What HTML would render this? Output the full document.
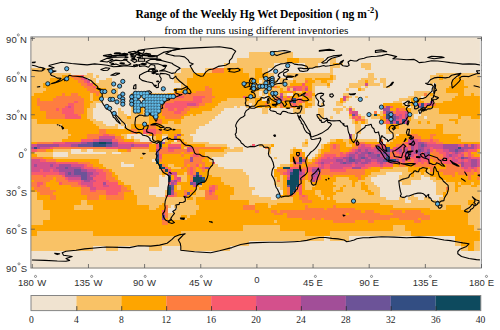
<!DOCTYPE html><html><head><meta charset="utf-8"><style>html,body{margin:0;padding:0;background:#fff}svg{display:block}</style></head><body>
<svg width="500" height="330" viewBox="0 0 500 330">
<rect width="500" height="330" fill="#fff"/>
<rect x="30.74" y="37.18" width="449.21" height="231.45" fill="#F0E3D0"/>
<path fill="#F9C266" shape-rendering="crispEdges" d="M249.1 52.4H292.8V57.5H249.1zM236.6 57.5H286.5V62.6H236.6zM299.0 57.5H324.0V62.6H299.0zM330.2 57.5H336.4V62.6H330.2zM330.2 62.6H333.3V65.2H330.2zM339.6 62.6H342.7V65.2H339.6zM224.1 62.6H274.1V67.7H224.1zM305.3 62.6H317.7V67.7H305.3zM330.2 65.2H339.6V67.7H330.2zM361.4 62.6H370.8V67.7H361.4zM364.5 67.7H370.8V70.2H364.5zM30.7 67.7H49.5V72.8H30.7zM180.5 67.7H193.0V72.8H180.5zM205.4 67.7H211.7V72.8H205.4zM242.9 67.7H255.3V72.8H242.9zM261.6 67.7H267.8V72.8H261.6zM330.2 67.7H333.3V72.8H330.2zM30.7 72.8H71.3V75.3H30.7zM86.9 72.8H93.1V75.3H86.9zM286.5 72.8H333.3V75.3H286.5zM436.3 72.8H479.9V75.3H436.3zM30.7 75.3H61.9V77.9H30.7zM83.8 75.3H93.1V77.9H83.8zM96.2 75.3H99.4V77.9H96.2zM174.2 72.8H193.0V77.9H174.2zM249.1 72.8H255.3V77.9H249.1zM267.8 72.8H274.1V77.9H267.8zM286.5 75.3H330.2V77.9H286.5zM367.6 72.8H373.9V77.9H367.6zM442.5 75.3H458.1V77.9H442.5zM105.6 77.9H111.8V80.4H105.6zM258.5 77.9H274.1V80.4H258.5zM277.2 77.9H286.5V80.4H277.2zM292.8 77.9H305.3V80.4H292.8zM311.5 77.9H314.6V80.4H311.5zM333.3 75.3H336.4V80.4H333.3zM361.4 77.9H377.0V80.4H361.4zM430.0 75.3H439.4V80.4H430.0zM442.5 77.9H455.0V80.4H442.5zM461.2 75.3H479.9V80.4H461.2zM30.7 77.9H49.5V83.0H30.7zM90.0 77.9H96.2V83.0H90.0zM99.4 80.4H111.8V83.0H99.4zM174.2 77.9H186.7V83.0H174.2zM261.6 80.4H277.2V83.0H261.6zM280.3 80.4H292.8V83.0H280.3zM295.9 80.4H305.3V83.0H295.9zM314.6 80.4H320.8V83.0H314.6zM327.1 80.4H333.3V83.0H327.1zM358.3 80.4H364.5V83.0H358.3zM367.6 80.4H373.9V83.0H367.6zM380.1 77.9H386.4V83.0H380.1zM430.0 80.4H451.9V83.0H430.0zM96.2 83.0H111.8V85.5H96.2zM255.3 83.0H289.7V85.5H255.3zM311.5 83.0H327.1V85.5H311.5zM348.9 83.0H364.5V85.5H348.9zM367.6 83.0H380.1V85.5H367.6zM383.2 83.0H386.4V85.5H383.2zM430.0 83.0H433.2V85.5H430.0zM436.3 83.0H451.9V85.5H436.3zM464.3 80.4H479.9V85.5H464.3zM30.7 83.0H43.2V88.0H30.7zM99.4 85.5H111.8V88.0H99.4zM180.5 83.0H186.7V88.0H180.5zM255.3 85.5H270.9V88.0H255.3zM280.3 85.5H286.5V88.0H280.3zM327.1 85.5H330.2V88.0H327.1zM348.9 85.5H361.4V88.0H348.9zM364.5 85.5H367.6V88.0H364.5zM383.2 85.5H389.5V88.0H383.2zM436.3 85.5H448.7V88.0H436.3zM467.5 85.5H479.9V88.0H467.5zM30.7 88.0H46.3V90.6H30.7zM105.6 88.0H118.1V90.6H105.6zM177.4 88.0H180.5V90.6H177.4zM258.5 88.0H280.3V90.6H258.5zM283.4 88.0H286.5V90.6H283.4zM289.7 88.0H292.8V90.6H289.7zM345.8 88.0H348.9V90.6H345.8zM361.4 88.0H364.5V90.6H361.4zM30.7 90.6H43.2V93.1H30.7zM261.6 90.6H280.3V93.1H261.6zM295.9 90.6H302.1V93.1H295.9zM311.5 85.5H314.6V93.1H311.5zM414.4 90.6H430.0V93.1H414.4zM433.2 88.0H445.6V93.1H433.2zM464.3 88.0H479.9V93.1H464.3zM30.7 93.1H33.9V95.7H30.7zM255.3 90.6H258.5V95.7H255.3zM261.6 93.1H264.7V95.7H261.6zM270.9 93.1H280.3V95.7H270.9zM283.4 93.1H286.5V95.7H283.4zM302.1 93.1H305.3V95.7H302.1zM342.7 93.1H348.9V95.7H342.7zM414.4 93.1H423.8V95.7H414.4zM426.9 93.1H430.0V95.7H426.9zM433.2 93.1H458.1V95.7H433.2zM464.3 93.1H470.6V95.7H464.3zM473.7 93.1H479.9V95.7H473.7zM102.5 90.6H118.1V98.2H102.5zM130.6 93.1H168.0V98.2H130.6zM255.3 95.7H261.6V98.2H255.3zM264.7 95.7H277.2V98.2H264.7zM299.0 95.7H302.1V98.2H299.0zM348.9 95.7H352.0V98.2H348.9zM355.2 95.7H358.3V98.2H355.2zM364.5 95.7H367.6V98.2H364.5zM408.2 95.7H420.7V98.2H408.2zM423.8 95.7H455.0V98.2H423.8zM90.0 93.1H93.1V100.8H90.0zM227.3 98.2H246.0V100.8H227.3zM249.1 98.2H255.3V100.8H249.1zM311.5 95.7H314.6V100.8H311.5zM345.8 98.2H348.9V100.8H345.8zM398.8 98.2H411.3V100.8H398.8zM414.4 98.2H417.6V100.8H414.4zM420.7 98.2H451.9V100.8H420.7zM93.1 100.8H102.5V103.3H93.1zM143.0 98.2H161.8V103.3H143.0zM221.0 100.8H255.3V103.3H221.0zM267.8 100.8H270.9V103.3H267.8zM308.4 100.8H314.6V103.3H308.4zM336.4 100.8H339.6V103.3H336.4zM342.7 100.8H345.8V103.3H342.7zM392.6 100.8H402.0V103.3H392.6zM423.8 100.8H430.0V103.3H423.8zM433.2 100.8H442.5V103.3H433.2zM217.9 103.3H249.1V105.8H217.9zM252.2 103.3H255.3V105.8H252.2zM302.1 103.3H305.3V105.8H302.1zM311.5 103.3H314.6V105.8H311.5zM320.8 103.3H324.0V105.8H320.8zM336.4 103.3H342.7V105.8H336.4zM402.0 103.3H405.1V105.8H402.0zM408.2 103.3H411.3V105.8H408.2zM90.0 103.3H96.2V108.4H90.0zM214.8 105.8H233.5V108.4H214.8zM236.6 105.8H239.7V108.4H236.6zM246.0 105.8H252.2V108.4H246.0zM261.6 105.8H264.7V108.4H261.6zM277.2 105.8H280.3V108.4H277.2zM295.9 105.8H305.3V108.4H295.9zM308.4 105.8H311.5V108.4H308.4zM342.7 105.8H345.8V108.4H342.7zM348.9 105.8H352.0V108.4H348.9zM405.1 105.8H408.2V108.4H405.1zM411.3 105.8H417.6V108.4H411.3zM118.1 108.4H121.2V110.9H118.1zM211.7 108.4H224.1V110.9H211.7zM333.3 108.4H342.7V110.9H333.3zM345.8 108.4H348.9V110.9H345.8zM352.0 108.4H355.2V110.9H352.0zM411.3 108.4H439.4V110.9H411.3zM118.1 110.9H124.3V113.5H118.1zM130.6 103.3H136.8V113.5H130.6zM143.0 103.3H155.5V113.5H143.0zM202.3 110.9H221.0V113.5H202.3zM261.6 108.4H267.8V113.5H261.6zM292.8 108.4H305.3V113.5H292.8zM336.4 110.9H339.6V113.5H336.4zM411.3 110.9H417.6V113.5H411.3zM420.7 110.9H439.4V113.5H420.7zM189.8 113.5H193.0V116.0H189.8zM196.1 113.5H217.9V116.0H196.1zM358.3 113.5H361.4V116.0H358.3zM367.6 113.5H373.9V116.0H367.6zM380.1 110.9H383.2V116.0H380.1zM420.7 113.5H458.1V116.0H420.7zM86.9 108.4H93.1V118.6H86.9zM118.1 113.5H127.4V118.6H118.1zM130.6 113.5H149.3V118.6H130.6zM183.6 116.0H214.8V118.6H183.6zM317.7 108.4H324.0V118.6H317.7zM330.2 116.0H333.3V118.6H330.2zM348.9 116.0H352.0V118.6H348.9zM361.4 116.0H364.5V118.6H361.4zM370.8 116.0H380.1V118.6H370.8zM411.3 113.5H414.4V118.6H411.3zM417.6 116.0H423.8V118.6H417.6zM426.9 116.0H458.1V118.6H426.9zM461.2 116.0H470.6V118.6H461.2zM90.0 118.6H96.2V121.1H90.0zM180.5 118.6H211.7V121.1H180.5zM411.3 118.6H448.7V121.1H411.3zM30.7 118.6H37.0V123.7H30.7zM93.1 121.1H102.5V123.7H93.1zM121.2 118.6H149.3V123.7H121.2zM168.0 121.1H174.2V123.7H168.0zM180.5 121.1H208.5V123.7H180.5zM352.0 118.6H355.2V123.7H352.0zM358.3 121.1H361.4V123.7H358.3zM364.5 118.6H367.6V123.7H364.5zM408.2 121.1H417.6V123.7H408.2zM420.7 121.1H426.9V123.7H420.7zM430.0 121.1H455.0V123.7H430.0zM458.1 118.6H479.9V123.7H458.1zM96.2 123.7H105.6V126.2H96.2zM115.0 123.7H118.1V126.2H115.0zM121.2 123.7H124.3V126.2H121.2zM127.4 123.7H130.6V126.2H127.4zM161.8 123.7H205.4V126.2H161.8zM30.7 123.7H61.9V128.7H30.7zM99.4 126.2H118.1V128.7H99.4zM124.3 126.2H130.6V128.7H124.3zM161.8 126.2H199.2V128.7H161.8zM398.8 123.7H436.3V128.7H398.8zM30.7 128.7H68.2V133.8H30.7zM180.5 128.7H196.1V133.8H180.5zM355.2 123.7H361.4V133.8H355.2zM386.4 128.7H411.3V133.8H386.4zM442.5 123.7H479.9V133.8H442.5zM30.7 133.8H71.3V136.4H30.7zM121.2 133.8H127.4V136.4H121.2zM146.2 133.8H149.3V136.4H146.2zM161.8 133.8H168.0V136.4H161.8zM183.6 133.8H189.8V136.4H183.6zM461.2 133.8H479.9V136.4H461.2zM30.7 136.4H68.2V138.9H30.7zM124.3 136.4H127.4V138.9H124.3zM130.6 136.4H133.7V138.9H130.6zM180.5 136.4H193.0V138.9H180.5zM352.0 133.8H355.2V138.9H352.0zM392.6 133.8H395.7V138.9H392.6zM458.1 136.4H479.9V138.9H458.1zM30.7 138.9H61.9V141.5H30.7zM133.7 138.9H139.9V141.5H133.7zM164.9 138.9H168.0V141.5H164.9zM183.6 138.9H193.0V141.5H183.6zM305.3 138.9H308.4V141.5H305.3zM330.2 138.9H336.4V141.5H330.2zM342.7 138.9H348.9V141.5H342.7zM355.2 138.9H377.0V141.5H355.2zM389.5 138.9H392.6V141.5H389.5zM461.2 138.9H479.9V141.5H461.2zM152.4 136.4H155.5V144.0H152.4zM171.1 141.5H180.5V144.0H171.1zM186.7 141.5H208.5V144.0H186.7zM302.1 141.5H305.3V144.0H302.1zM327.1 141.5H330.2V144.0H327.1zM345.8 141.5H348.9V144.0H345.8zM386.4 141.5H389.5V144.0H386.4zM205.4 144.0H227.3V146.5H205.4zM258.5 144.0H270.9V146.5H258.5zM302.1 144.0H308.4V146.5H302.1zM345.8 144.0H352.0V146.5H345.8zM183.6 146.5H186.7V149.1H183.6zM227.3 146.5H230.4V149.1H227.3zM233.5 146.5H242.9V149.1H233.5zM292.8 146.5H295.9V149.1H292.8zM320.8 144.0H324.0V149.1H320.8zM52.6 149.1H71.3V151.6H52.6zM80.6 149.1H86.9V151.6H80.6zM93.1 149.1H118.1V151.6H93.1zM130.6 149.1H149.3V151.6H130.6zM224.1 149.1H242.9V151.6H224.1zM33.9 151.6H52.6V154.2H33.9zM68.2 151.6H71.3V154.2H68.2zM105.6 151.6H111.8V154.2H105.6zM121.2 151.6H155.5V154.2H121.2zM205.4 151.6H227.3V154.2H205.4zM267.8 149.1H270.9V154.2H267.8zM289.7 149.1H292.8V154.2H289.7zM317.7 149.1H320.8V154.2H317.7zM476.8 151.6H479.9V154.2H476.8zM37.0 154.2H52.6V156.7H37.0zM68.2 154.2H155.5V156.7H68.2zM205.4 154.2H224.1V156.7H205.4zM314.6 154.2H317.7V156.7H314.6zM52.6 156.7H139.9V159.3H52.6zM143.0 156.7H155.5V159.3H143.0zM274.1 156.7H277.2V159.3H274.1zM311.5 156.7H314.6V159.3H311.5zM99.4 159.3H152.4V161.8H99.4zM208.5 156.7H211.7V161.8H208.5zM308.4 159.3H311.5V161.8H308.4zM99.4 161.8H121.2V164.3H99.4zM124.3 161.8H155.5V164.3H124.3zM289.7 161.8H292.8V164.3H289.7zM102.5 164.3H121.2V166.9H102.5zM133.7 164.3H158.6V166.9H133.7zM168.0 164.3H174.2V166.9H168.0zM211.7 164.3H217.9V166.9H211.7zM280.3 164.3H289.7V166.9H280.3zM105.6 166.9H158.6V169.4H105.6zM171.1 166.9H180.5V169.4H171.1zM208.5 166.9H224.1V169.4H208.5zM392.6 166.9H408.2V169.4H392.6zM111.8 169.4H161.8V172.0H111.8zM208.5 169.4H242.9V172.0H208.5zM380.1 169.4H408.2V172.0H380.1zM426.9 169.4H430.0V172.0H426.9zM115.0 172.0H161.8V174.5H115.0zM183.6 172.0H186.7V174.5H183.6zM208.5 172.0H246.0V174.5H208.5zM370.8 172.0H386.4V174.5H370.8zM402.0 172.0H411.3V174.5H402.0zM161.8 174.5H164.9V177.1H161.8zM177.4 174.5H186.7V177.1H177.4zM211.7 174.5H249.1V177.1H211.7zM367.6 174.5H377.0V177.1H367.6zM398.8 174.5H411.3V177.1H398.8zM414.4 172.0H420.7V177.1H414.4zM423.8 172.0H430.0V177.1H423.8zM118.1 174.5H158.6V179.6H118.1zM336.4 177.1H348.9V179.6H336.4zM364.5 177.1H370.8V179.6H364.5zM398.8 177.1H420.7V179.6H398.8zM430.0 177.1H436.3V179.6H430.0zM121.2 179.6H158.6V182.1H121.2zM180.5 177.1H186.7V182.1H180.5zM221.0 177.1H249.1V182.1H221.0zM274.1 177.1H277.2V182.1H274.1zM280.3 174.5H283.4V182.1H280.3zM305.3 179.6H308.4V182.1H305.3zM336.4 179.6H352.0V182.1H336.4zM358.3 179.6H370.8V182.1H358.3zM398.8 179.6H411.3V182.1H398.8zM433.2 179.6H445.6V182.1H433.2zM124.3 182.1H158.6V184.7H124.3zM224.1 182.1H249.1V184.7H224.1zM274.1 182.1H283.4V184.7H274.1zM305.3 182.1H311.5V184.7H305.3zM333.3 182.1H352.0V184.7H333.3zM364.5 182.1H373.9V184.7H364.5zM402.0 182.1H411.3V184.7H402.0zM458.1 182.1H461.2V184.7H458.1zM470.6 182.1H473.7V184.7H470.6zM130.6 184.7H158.6V187.2H130.6zM199.2 184.7H202.3V187.2H199.2zM230.4 184.7H249.1V187.2H230.4zM277.2 184.7H283.4V187.2H277.2zM305.3 184.7H314.6V187.2H305.3zM336.4 184.7H342.7V187.2H336.4zM345.8 184.7H352.0V187.2H345.8zM355.2 182.1H361.4V187.2H355.2zM367.6 184.7H377.0V187.2H367.6zM436.3 182.1H455.0V187.2H436.3zM461.2 184.7H470.6V187.2H461.2zM476.8 184.7H479.9V187.2H476.8zM130.6 187.2H149.3V189.8H130.6zM177.4 184.7H180.5V189.8H177.4zM196.1 187.2H199.2V189.8H196.1zM233.5 187.2H255.3V189.8H233.5zM280.3 187.2H283.4V189.8H280.3zM305.3 187.2H311.5V189.8H305.3zM333.3 187.2H339.6V189.8H333.3zM342.7 187.2H361.4V189.8H342.7zM367.6 187.2H380.1V189.8H367.6zM333.3 189.8H336.4V192.3H333.3zM342.7 189.8H364.5V192.3H342.7zM370.8 189.8H380.1V192.3H370.8zM436.3 187.2H445.6V192.3H436.3zM448.7 187.2H455.0V192.3H448.7zM458.1 187.2H479.9V192.3H458.1zM133.7 189.8H149.3V194.9H133.7zM164.9 189.8H168.0V194.9H164.9zM196.1 189.8H205.4V194.9H196.1zM233.5 189.8H252.2V194.9H233.5zM314.6 189.8H320.8V194.9H314.6zM336.4 192.3H367.6V194.9H336.4zM373.9 192.3H380.1V194.9H373.9zM436.3 192.3H442.5V194.9H436.3zM136.8 194.9H155.5V197.4H136.8zM189.8 194.9H205.4V197.4H189.8zM230.4 194.9H258.5V197.4H230.4zM317.7 194.9H324.0V197.4H317.7zM333.3 194.9H380.1V197.4H333.3zM411.3 194.9H414.4V197.4H411.3zM445.6 192.3H479.9V197.4H445.6zM30.7 192.3H37.0V200.0H30.7zM136.8 197.4H186.7V200.0H136.8zM193.0 197.4H196.1V200.0H193.0zM230.4 197.4H270.9V200.0H230.4zM277.2 197.4H292.8V200.0H277.2zM320.8 197.4H324.0V200.0H320.8zM327.1 197.4H330.2V200.0H327.1zM333.3 197.4H386.4V200.0H333.3zM398.8 197.4H405.1V200.0H398.8zM408.2 197.4H417.6V200.0H408.2zM423.8 197.4H430.0V200.0H423.8zM439.4 197.4H479.9V200.0H439.4zM136.8 200.0H196.1V202.5H136.8zM249.1 200.0H292.8V202.5H249.1zM336.4 200.0H405.1V202.5H336.4zM411.3 200.0H436.3V202.5H411.3zM439.4 200.0H467.5V202.5H439.4zM80.6 200.0H86.9V205.0H80.6zM136.8 202.5H161.8V205.0H136.8zM164.9 202.5H196.1V205.0H164.9zM249.1 202.5H255.3V205.0H249.1zM267.8 202.5H277.2V205.0H267.8zM380.1 202.5H467.5V205.0H380.1zM473.7 200.0H479.9V205.0H473.7zM149.3 205.0H158.6V207.6H149.3zM168.0 205.0H171.1V207.6H168.0zM174.2 205.0H199.2V207.6H174.2zM267.8 205.0H270.9V207.6H267.8zM392.6 205.0H445.6V207.6H392.6zM30.7 200.0H43.2V210.1H30.7zM74.4 205.0H93.1V210.1H74.4zM149.3 207.6H155.5V210.1H149.3zM177.4 207.6H199.2V210.1H177.4zM430.0 207.6H445.6V210.1H430.0zM461.2 205.0H479.9V210.1H461.2zM174.2 210.1H196.1V212.7H174.2zM168.0 212.7H196.1V215.2H168.0zM168.0 215.2H180.5V217.8H168.0zM186.7 215.2H189.8V217.8H186.7zM30.7 210.1H49.5V220.3H30.7zM168.0 217.8H186.7V220.3H168.0zM274.1 220.3H277.2V222.8H274.1zM30.7 220.3H43.2V225.4H30.7zM467.5 210.1H479.9V225.4H467.5zM242.9 225.4H280.3V230.5H242.9zM392.6 225.4H405.1V230.5H392.6zM473.7 225.4H479.9V230.5H473.7zM37.0 230.5H93.1V235.6H37.0zM180.5 230.5H305.3V235.6H180.5zM330.2 230.5H411.3V235.6H330.2zM30.7 235.6H324.0V240.6H30.7zM330.2 235.6H348.9V240.6H330.2zM30.7 240.6H249.1V245.7H30.7zM455.0 240.6H461.2V245.7H455.0zM30.7 245.7H93.1V250.8H30.7zM105.6 245.7H118.1V250.8H105.6zM149.3 245.7H161.8V250.8H149.3zM180.5 245.7H230.4V250.8H180.5zM461.2 245.7H467.5V250.8H461.2zM473.7 240.6H479.9V250.8H473.7z"/>
<path fill="#FEA500" shape-rendering="crispEdges" d="M286.5 57.5H299.0V62.6H286.5zM333.3 62.6H339.6V65.2H333.3zM224.1 67.7H242.9V72.8H224.1zM255.3 67.7H261.6V72.8H255.3zM61.9 75.3H71.3V77.9H61.9zM193.0 72.8H249.1V77.9H193.0zM255.3 72.8H267.8V77.9H255.3zM330.2 75.3H333.3V77.9H330.2zM458.1 75.3H461.2V77.9H458.1zM49.5 77.9H74.4V80.4H49.5zM305.3 77.9H311.5V80.4H305.3zM314.6 77.9H333.3V80.4H314.6zM439.4 75.3H442.5V80.4H439.4zM455.0 77.9H461.2V80.4H455.0zM49.5 80.4H77.5V83.0H49.5zM186.7 77.9H258.5V83.0H186.7zM292.8 80.4H295.9V83.0H292.8zM308.4 80.4H314.6V83.0H308.4zM320.8 80.4H327.1V83.0H320.8zM364.5 80.4H367.6V83.0H364.5zM43.2 83.0H80.6V85.5H43.2zM93.1 83.0H96.2V85.5H93.1zM186.7 83.0H255.3V85.5H186.7zM289.7 83.0H302.1V85.5H289.7zM305.3 83.0H311.5V85.5H305.3zM327.1 83.0H330.2V85.5H327.1zM451.9 80.4H464.3V85.5H451.9zM43.2 85.5H83.8V88.0H43.2zM96.2 85.5H99.4V88.0H96.2zM186.7 85.5H205.4V88.0H186.7zM208.5 85.5H255.3V88.0H208.5zM270.9 85.5H274.1V88.0H270.9zM277.2 85.5H280.3V88.0H277.2zM448.7 85.5H467.5V88.0H448.7zM46.3 88.0H86.9V90.6H46.3zM96.2 88.0H105.6V90.6H96.2zM174.2 88.0H177.4V90.6H174.2zM180.5 88.0H205.4V90.6H180.5zM211.7 88.0H258.5V90.6H211.7zM280.3 88.0H283.4V90.6H280.3zM308.4 85.5H311.5V90.6H308.4zM358.3 88.0H361.4V90.6H358.3zM43.2 90.6H90.0V93.1H43.2zM174.2 90.6H196.1V93.1H174.2zM280.3 90.6H289.7V93.1H280.3zM292.8 90.6H295.9V93.1H292.8zM302.1 90.6H308.4V93.1H302.1zM445.6 88.0H464.3V93.1H445.6zM33.9 93.1H61.9V95.7H33.9zM65.1 93.1H71.3V95.7H65.1zM77.5 93.1H90.0V95.7H77.5zM93.1 93.1H96.2V95.7H93.1zM99.4 93.1H102.5V95.7H99.4zM168.0 93.1H174.2V95.7H168.0zM211.7 90.6H255.3V95.7H211.7zM267.8 93.1H270.9V95.7H267.8zM292.8 93.1H302.1V95.7H292.8zM311.5 93.1H314.6V95.7H311.5zM430.0 93.1H433.2V95.7H430.0zM458.1 93.1H464.3V95.7H458.1zM470.6 93.1H473.7V95.7H470.6zM30.7 95.7H55.7V98.2H30.7zM80.6 95.7H90.0V98.2H80.6zM93.1 95.7H102.5V98.2H93.1zM168.0 95.7H171.1V98.2H168.0zM214.8 95.7H242.9V98.2H214.8zM246.0 95.7H255.3V98.2H246.0zM283.4 95.7H286.5V98.2H283.4zM289.7 95.7H299.0V98.2H289.7zM302.1 95.7H308.4V98.2H302.1zM455.0 95.7H479.9V98.2H455.0zM40.1 98.2H52.6V100.8H40.1zM83.8 98.2H90.0V100.8H83.8zM93.1 98.2H99.4V100.8H93.1zM164.9 98.2H168.0V100.8H164.9zM211.7 98.2H227.3V100.8H211.7zM246.0 98.2H249.1V100.8H246.0zM255.3 98.2H261.6V100.8H255.3zM267.8 98.2H274.1V100.8H267.8zM286.5 98.2H289.7V100.8H286.5zM302.1 98.2H311.5V100.8H302.1zM411.3 98.2H414.4V100.8H411.3zM417.6 98.2H420.7V100.8H417.6zM451.9 98.2H479.9V100.8H451.9zM83.8 100.8H93.1V103.3H83.8zM161.8 100.8H164.9V103.3H161.8zM211.7 100.8H221.0V103.3H211.7zM255.3 100.8H267.8V103.3H255.3zM270.9 100.8H289.7V103.3H270.9zM305.3 100.8H308.4V103.3H305.3zM339.6 98.2H342.7V103.3H339.6zM411.3 100.8H423.8V103.3H411.3zM442.5 100.8H479.9V103.3H442.5zM30.7 98.2H37.0V105.8H30.7zM155.5 103.3H161.8V105.8H155.5zM205.4 103.3H217.9V105.8H205.4zM255.3 103.3H264.7V105.8H255.3zM267.8 103.3H280.3V105.8H267.8zM299.0 103.3H302.1V105.8H299.0zM305.3 103.3H311.5V105.8H305.3zM383.2 103.3H402.0V105.8H383.2zM411.3 103.3H414.4V105.8H411.3zM436.3 103.3H479.9V105.8H436.3zM83.8 103.3H90.0V108.4H83.8zM155.5 105.8H158.6V108.4H155.5zM199.2 105.8H214.8V108.4H199.2zM255.3 105.8H261.6V108.4H255.3zM264.7 105.8H277.2V108.4H264.7zM283.4 103.3H289.7V108.4H283.4zM292.8 105.8H295.9V108.4H292.8zM305.3 105.8H308.4V108.4H305.3zM392.6 105.8H405.1V108.4H392.6zM426.9 105.8H479.9V108.4H426.9zM30.7 105.8H40.1V110.9H30.7zM189.8 108.4H211.7V110.9H189.8zM389.5 108.4H395.7V110.9H389.5zM405.1 108.4H411.3V110.9H405.1zM83.8 108.4H86.9V113.5H83.8zM136.8 103.3H143.0V113.5H136.8zM155.5 108.4H161.8V113.5H155.5zM186.7 110.9H202.3V113.5H186.7zM439.4 108.4H479.9V113.5H439.4zM149.3 113.5H161.8V116.0H149.3zM183.6 113.5H189.8V116.0H183.6zM193.0 113.5H196.1V116.0H193.0zM348.9 113.5H352.0V116.0H348.9zM377.0 113.5H380.1V116.0H377.0zM383.2 113.5H386.4V116.0H383.2zM458.1 113.5H479.9V116.0H458.1zM30.7 110.9H46.3V118.6H30.7zM80.6 113.5H86.9V118.6H80.6zM127.4 116.0H130.6V118.6H127.4zM149.3 116.0H164.9V118.6H149.3zM180.5 116.0H183.6V118.6H180.5zM380.1 116.0H383.2V118.6H380.1zM458.1 116.0H461.2V118.6H458.1zM470.6 116.0H479.9V118.6H470.6zM37.0 118.6H90.0V121.1H37.0zM161.8 118.6H180.5V121.1H161.8zM380.1 118.6H386.4V121.1H380.1zM408.2 110.9H411.3V121.1H408.2zM448.7 118.6H458.1V121.1H448.7zM37.0 121.1H93.1V123.7H37.0zM149.3 118.6H155.5V123.7H149.3zM161.8 121.1H168.0V123.7H161.8zM174.2 121.1H180.5V123.7H174.2zM355.2 121.1H358.3V123.7H355.2zM361.4 121.1H364.5V123.7H361.4zM380.1 121.1H383.2V123.7H380.1zM417.6 121.1H420.7V123.7H417.6zM426.9 121.1H430.0V123.7H426.9zM455.0 121.1H458.1V123.7H455.0zM61.9 123.7H96.2V126.2H61.9zM61.9 126.2H99.4V128.7H61.9zM130.6 123.7H149.3V128.7H130.6zM155.5 123.7H161.8V128.7H155.5zM386.4 123.7H398.8V128.7H386.4zM436.3 123.7H442.5V128.7H436.3zM68.2 128.7H99.4V133.8H68.2zM105.6 128.7H130.6V133.8H105.6zM136.8 128.7H143.0V133.8H136.8zM161.8 128.7H180.5V133.8H161.8zM411.3 128.7H442.5V133.8H411.3zM71.3 133.8H86.9V136.4H71.3zM115.0 133.8H121.2V136.4H115.0zM149.3 133.8H152.4V136.4H149.3zM180.5 133.8H183.6V136.4H180.5zM398.8 133.8H408.2V136.4H398.8zM417.6 133.8H430.0V136.4H417.6zM436.3 133.8H461.2V136.4H436.3zM68.2 136.4H86.9V138.9H68.2zM121.2 136.4H124.3V138.9H121.2zM177.4 136.4H180.5V138.9H177.4zM395.7 136.4H411.3V138.9H395.7zM420.7 136.4H430.0V138.9H420.7zM433.2 136.4H458.1V138.9H433.2zM61.9 138.9H80.6V141.5H61.9zM124.3 138.9H133.7V141.5H124.3zM155.5 133.8H161.8V141.5H155.5zM168.0 133.8H174.2V141.5H168.0zM180.5 138.9H183.6V141.5H180.5zM336.4 138.9H342.7V141.5H336.4zM392.6 138.9H408.2V141.5H392.6zM439.4 138.9H461.2V141.5H439.4zM30.7 141.5H37.0V144.0H30.7zM164.9 141.5H171.1V144.0H164.9zM183.6 141.5H186.7V144.0H183.6zM305.3 141.5H308.4V144.0H305.3zM330.2 141.5H345.8V144.0H330.2zM348.9 138.9H355.2V144.0H348.9zM364.5 141.5H380.1V144.0H364.5zM389.5 141.5H402.0V144.0H389.5zM442.5 141.5H479.9V144.0H442.5zM161.8 144.0H168.0V146.5H161.8zM186.7 144.0H205.4V146.5H186.7zM270.9 144.0H274.1V146.5H270.9zM339.6 144.0H345.8V146.5H339.6zM352.0 144.0H355.2V146.5H352.0zM386.4 144.0H395.7V146.5H386.4zM180.5 144.0H183.6V149.1H180.5zM221.0 146.5H227.3V149.1H221.0zM267.8 146.5H270.9V149.1H267.8zM324.0 144.0H330.2V149.1H324.0zM339.6 146.5H352.0V149.1H339.6zM389.5 146.5H392.6V149.1H389.5zM46.3 149.1H52.6V151.6H46.3zM118.1 149.1H127.4V151.6H118.1zM149.3 144.0H155.5V151.6H149.3zM199.2 149.1H224.1V151.6H199.2zM292.8 149.1H302.1V151.6H292.8zM320.8 149.1H330.2V151.6H320.8zM339.6 149.1H348.9V151.6H339.6zM476.8 149.1H479.9V151.6H476.8zM30.7 151.6H33.9V154.2H30.7zM180.5 151.6H183.6V154.2H180.5zM189.8 151.6H193.0V154.2H189.8zM199.2 151.6H205.4V154.2H199.2zM292.8 151.6H299.0V154.2H292.8zM320.8 151.6H324.0V154.2H320.8zM470.6 151.6H476.8V154.2H470.6zM30.7 154.2H37.0V156.7H30.7zM161.8 154.2H180.5V156.7H161.8zM183.6 154.2H189.8V156.7H183.6zM202.3 154.2H205.4V156.7H202.3zM289.7 154.2H295.9V156.7H289.7zM302.1 151.6H305.3V156.7H302.1zM317.7 154.2H320.8V156.7H317.7zM430.0 154.2H433.2V156.7H430.0zM473.7 154.2H479.9V156.7H473.7zM43.2 156.7H52.6V159.3H43.2zM139.9 156.7H143.0V159.3H139.9zM161.8 156.7H189.8V159.3H161.8zM205.4 156.7H208.5V159.3H205.4zM314.6 156.7H317.7V159.3H314.6zM55.7 159.3H99.4V161.8H55.7zM161.8 159.3H183.6V161.8H161.8zM202.3 159.3H208.5V161.8H202.3zM289.7 156.7H292.8V161.8H289.7zM305.3 156.7H308.4V161.8H305.3zM311.5 159.3H314.6V161.8H311.5zM430.0 159.3H433.2V161.8H430.0zM90.0 161.8H99.4V164.3H90.0zM158.6 161.8H183.6V164.3H158.6zM305.3 161.8H311.5V164.3H305.3zM408.2 161.8H411.3V164.3H408.2zM430.0 161.8H436.3V164.3H430.0zM93.1 164.3H102.5V166.9H93.1zM164.9 164.3H168.0V166.9H164.9zM174.2 164.3H183.6V166.9H174.2zM186.7 164.3H189.8V166.9H186.7zM199.2 164.3H202.3V166.9H199.2zM205.4 161.8H211.7V166.9H205.4zM289.7 164.3H292.8V166.9H289.7zM302.1 164.3H308.4V166.9H302.1zM392.6 164.3H398.8V166.9H392.6zM405.1 164.3H414.4V166.9H405.1zM436.3 164.3H445.6V166.9H436.3zM99.4 166.9H105.6V169.4H99.4zM168.0 166.9H171.1V169.4H168.0zM183.6 166.9H186.7V169.4H183.6zM196.1 166.9H199.2V169.4H196.1zM277.2 166.9H283.4V169.4H277.2zM299.0 166.9H302.1V169.4H299.0zM370.8 166.9H380.1V169.4H370.8zM383.2 166.9H392.6V169.4H383.2zM408.2 166.9H430.0V169.4H408.2zM433.2 166.9H445.6V169.4H433.2zM108.7 169.4H111.8V172.0H108.7zM171.1 169.4H186.7V172.0H171.1zM196.1 169.4H202.3V172.0H196.1zM205.4 169.4H208.5V172.0H205.4zM274.1 169.4H277.2V172.0H274.1zM364.5 169.4H380.1V172.0H364.5zM408.2 169.4H426.9V172.0H408.2zM433.2 169.4H439.4V172.0H433.2zM111.8 172.0H115.0V174.5H111.8zM161.8 172.0H168.0V174.5H161.8zM177.4 172.0H183.6V174.5H177.4zM199.2 172.0H208.5V174.5H199.2zM364.5 172.0H370.8V174.5H364.5zM420.7 172.0H423.8V174.5H420.7zM430.0 172.0H442.5V174.5H430.0zM455.0 172.0H458.1V174.5H455.0zM473.7 172.0H476.8V174.5H473.7zM111.8 174.5H118.1V177.1H111.8zM202.3 174.5H211.7V177.1H202.3zM274.1 172.0H280.3V177.1H274.1zM320.8 174.5H330.2V177.1H320.8zM333.3 174.5H355.2V177.1H333.3zM361.4 174.5H367.6V177.1H361.4zM411.3 172.0H414.4V177.1H411.3zM430.0 174.5H451.9V177.1H430.0zM455.0 174.5H467.5V177.1H455.0zM470.6 174.5H479.9V177.1H470.6zM52.6 177.1H55.7V179.6H52.6zM115.0 177.1H118.1V179.6H115.0zM171.1 174.5H174.2V179.6H171.1zM277.2 177.1H280.3V179.6H277.2zM305.3 172.0H308.4V179.6H305.3zM320.8 177.1H336.4V179.6H320.8zM348.9 177.1H358.3V179.6H348.9zM361.4 177.1H364.5V179.6H361.4zM436.3 177.1H467.5V179.6H436.3zM470.6 177.1H476.8V179.6H470.6zM30.7 179.6H33.9V182.1H30.7zM49.5 179.6H55.7V182.1H49.5zM118.1 179.6H121.2V182.1H118.1zM186.7 174.5H189.8V182.1H186.7zM205.4 177.1H221.0V182.1H205.4zM308.4 179.6H311.5V182.1H308.4zM317.7 179.6H336.4V182.1H317.7zM352.0 179.6H358.3V182.1H352.0zM445.6 179.6H479.9V182.1H445.6zM46.3 182.1H58.8V184.7H46.3zM118.1 182.1H124.3V184.7H118.1zM177.4 182.1H189.8V184.7H177.4zM202.3 182.1H224.1V184.7H202.3zM311.5 182.1H333.3V184.7H311.5zM361.4 182.1H364.5V184.7H361.4zM455.0 182.1H458.1V184.7H455.0zM461.2 182.1H470.6V184.7H461.2zM473.7 182.1H479.9V184.7H473.7zM46.3 184.7H71.3V187.2H46.3zM124.3 184.7H130.6V187.2H124.3zM180.5 184.7H193.0V187.2H180.5zM196.1 184.7H199.2V187.2H196.1zM202.3 184.7H208.5V187.2H202.3zM217.9 184.7H230.4V187.2H217.9zM314.6 184.7H336.4V187.2H314.6zM342.7 184.7H345.8V187.2H342.7zM352.0 182.1H355.2V187.2H352.0zM455.0 184.7H461.2V187.2H455.0zM470.6 184.7H476.8V187.2H470.6zM30.7 187.2H33.9V189.8H30.7zM49.5 187.2H80.6V189.8H49.5zM127.4 187.2H130.6V189.8H127.4zM174.2 184.7H177.4V189.8H174.2zM180.5 187.2H196.1V189.8H180.5zM199.2 187.2H208.5V189.8H199.2zM217.9 187.2H233.5V189.8H217.9zM302.1 179.6H305.3V189.8H302.1zM311.5 187.2H333.3V189.8H311.5zM339.6 187.2H342.7V189.8H339.6zM361.4 184.7H367.6V189.8H361.4zM30.7 189.8H37.0V192.3H30.7zM55.7 189.8H80.6V192.3H55.7zM130.6 189.8H133.7V192.3H130.6zM174.2 189.8H183.6V192.3H174.2zM186.7 189.8H189.8V192.3H186.7zM193.0 189.8H196.1V192.3H193.0zM320.8 189.8H333.3V192.3H320.8zM336.4 189.8H342.7V192.3H336.4zM364.5 189.8H370.8V192.3H364.5zM445.6 189.8H448.7V192.3H445.6zM455.0 187.2H458.1V192.3H455.0zM37.0 192.3H40.1V194.9H37.0zM52.6 192.3H80.6V194.9H52.6zM124.3 192.3H133.7V194.9H124.3zM189.8 192.3H196.1V194.9H189.8zM214.8 189.8H233.5V194.9H214.8zM283.4 174.5H286.5V194.9H283.4zM295.9 192.3H299.0V194.9H295.9zM302.1 189.8H314.6V194.9H302.1zM320.8 192.3H336.4V194.9H320.8zM367.6 192.3H373.9V194.9H367.6zM177.4 192.3H183.6V197.4H177.4zM186.7 194.9H189.8V197.4H186.7zM280.3 194.9H289.7V197.4H280.3zM308.4 194.9H317.7V197.4H308.4zM324.0 194.9H333.3V197.4H324.0zM442.5 192.3H445.6V197.4H442.5zM37.0 194.9H49.5V200.0H37.0zM55.7 194.9H86.9V200.0H55.7zM99.4 194.9H105.6V200.0H99.4zM124.3 194.9H136.8V200.0H124.3zM186.7 197.4H193.0V200.0H186.7zM196.1 197.4H205.4V200.0H196.1zM217.9 194.9H230.4V200.0H217.9zM292.8 194.9H299.0V200.0H292.8zM308.4 197.4H320.8V200.0H308.4zM324.0 197.4H327.1V200.0H324.0zM330.2 197.4H333.3V200.0H330.2zM292.8 200.0H302.1V202.5H292.8zM311.5 200.0H336.4V202.5H311.5zM43.2 200.0H80.6V205.0H43.2zM86.9 200.0H136.8V205.0H86.9zM161.8 202.5H164.9V205.0H161.8zM196.1 200.0H249.1V205.0H196.1zM277.2 202.5H380.1V205.0H277.2zM467.5 200.0H473.7V205.0H467.5zM158.6 205.0H164.9V207.6H158.6zM255.3 202.5H267.8V207.6H255.3zM270.9 205.0H305.3V207.6H270.9zM308.4 205.0H333.3V207.6H308.4zM336.4 205.0H392.6V207.6H336.4zM43.2 205.0H74.4V210.1H43.2zM93.1 205.0H149.3V210.1H93.1zM155.5 207.6H164.9V210.1H155.5zM199.2 205.0H242.9V210.1H199.2zM255.3 207.6H305.3V210.1H255.3zM324.0 207.6H327.1V210.1H324.0zM355.2 207.6H430.0V210.1H355.2zM445.6 205.0H461.2V210.1H445.6zM196.1 210.1H255.3V212.7H196.1zM258.5 210.1H270.9V212.7H258.5zM277.2 210.1H280.3V212.7H277.2zM361.4 210.1H364.5V212.7H361.4zM373.9 210.1H389.5V212.7H373.9zM402.0 210.1H405.1V212.7H402.0zM420.7 210.1H467.5V212.7H420.7zM196.1 212.7H274.1V215.2H196.1zM283.4 212.7H286.5V215.2H283.4zM345.8 212.7H348.9V215.2H345.8zM380.1 212.7H392.6V215.2H380.1zM423.8 212.7H467.5V215.2H423.8zM180.5 215.2H186.7V217.8H180.5zM189.8 215.2H286.5V217.8H189.8zM49.5 210.1H161.8V220.3H49.5zM164.9 217.8H168.0V220.3H164.9zM186.7 217.8H302.1V220.3H186.7zM311.5 217.8H314.6V220.3H311.5zM320.8 217.8H324.0V220.3H320.8zM389.5 217.8H398.8V220.3H389.5zM417.6 217.8H420.7V220.3H417.6zM430.0 215.2H467.5V220.3H430.0zM168.0 220.3H274.1V222.8H168.0zM277.2 220.3H333.3V222.8H277.2zM355.2 220.3H367.6V222.8H355.2zM373.9 220.3H414.4V222.8H373.9zM420.7 220.3H467.5V222.8H420.7zM43.2 220.3H161.8V225.4H43.2zM168.0 222.8H467.5V225.4H168.0zM30.7 225.4H242.9V230.5H30.7zM280.3 225.4H392.6V230.5H280.3zM405.1 225.4H473.7V230.5H405.1zM30.7 230.5H37.0V235.6H30.7zM93.1 230.5H180.5V235.6H93.1zM305.3 230.5H330.2V235.6H305.3zM411.3 230.5H479.9V235.6H411.3zM455.0 235.6H479.9V240.6H455.0zM461.2 240.6H473.7V245.7H461.2zM467.5 245.7H473.7V250.8H467.5z"/>
<path fill="#FE7D40" shape-rendering="crispEdges" d="M211.7 67.7H224.1V72.8H211.7zM71.3 75.3H80.6V77.9H71.3zM74.4 77.9H80.6V80.4H74.4zM77.5 80.4H83.8V83.0H77.5zM305.3 80.4H308.4V83.0H305.3zM80.6 83.0H86.9V85.5H80.6zM83.8 85.5H93.1V88.0H83.8zM205.4 85.5H208.5V88.0H205.4zM274.1 85.5H277.2V88.0H274.1zM286.5 85.5H292.8V88.0H286.5zM86.9 88.0H96.2V90.6H86.9zM205.4 88.0H211.7V90.6H205.4zM302.1 85.5H305.3V90.6H302.1zM90.0 90.6H102.5V93.1H90.0zM196.1 90.6H211.7V93.1H196.1zM289.7 90.6H292.8V93.1H289.7zM61.9 93.1H65.1V95.7H61.9zM71.3 93.1H77.5V95.7H71.3zM96.2 93.1H99.4V95.7H96.2zM174.2 93.1H211.7V95.7H174.2zM423.8 93.1H426.9V95.7H423.8zM55.7 95.7H80.6V98.2H55.7zM171.1 95.7H177.4V98.2H171.1zM183.6 95.7H193.0V98.2H183.6zM205.4 95.7H214.8V98.2H205.4zM277.2 95.7H280.3V98.2H277.2zM308.4 90.6H311.5V98.2H308.4zM345.8 95.7H348.9V98.2H345.8zM37.0 98.2H40.1V100.8H37.0zM52.6 98.2H83.8V100.8H52.6zM161.8 98.2H164.9V100.8H161.8zM168.0 98.2H193.0V100.8H168.0zM274.1 98.2H277.2V100.8H274.1zM283.4 98.2H286.5V100.8H283.4zM289.7 98.2H292.8V100.8H289.7zM37.0 100.8H74.4V103.3H37.0zM77.5 100.8H83.8V103.3H77.5zM164.9 100.8H174.2V103.3H164.9zM202.3 98.2H211.7V103.3H202.3zM302.1 100.8H305.3V103.3H302.1zM37.0 103.3H68.2V105.8H37.0zM161.8 103.3H164.9V105.8H161.8zM199.2 103.3H205.4V105.8H199.2zM264.7 103.3H267.8V105.8H264.7zM295.9 98.2H299.0V105.8H295.9zM433.2 103.3H436.3V105.8H433.2zM40.1 105.8H65.1V108.4H40.1zM158.6 105.8H164.9V108.4H158.6zM186.7 105.8H199.2V108.4H186.7zM280.3 103.3H283.4V108.4H280.3zM289.7 103.3H292.8V108.4H289.7zM383.2 105.8H386.4V108.4H383.2zM423.8 105.8H426.9V108.4H423.8zM40.1 108.4H55.7V110.9H40.1zM58.8 108.4H61.9V110.9H58.8zM161.8 108.4H168.0V110.9H161.8zM174.2 108.4H177.4V110.9H174.2zM183.6 108.4H189.8V110.9H183.6zM398.8 108.4H405.1V110.9H398.8zM46.3 110.9H61.9V113.5H46.3zM74.4 103.3H83.8V113.5H74.4zM161.8 110.9H174.2V113.5H161.8zM180.5 110.9H186.7V113.5H180.5zM373.9 110.9H377.0V113.5H373.9zM392.6 110.9H395.7V113.5H392.6zM77.5 113.5H80.6V116.0H77.5zM161.8 113.5H183.6V116.0H161.8zM46.3 113.5H65.1V118.6H46.3zM164.9 116.0H180.5V118.6H164.9zM355.2 116.0H358.3V118.6H355.2zM383.2 116.0H386.4V118.6H383.2zM358.3 118.6H364.5V121.1H358.3zM155.5 118.6H161.8V123.7H155.5zM383.2 121.1H386.4V123.7H383.2zM149.3 123.7H155.5V128.7H149.3zM99.4 128.7H105.6V133.8H99.4zM130.6 128.7H136.8V133.8H130.6zM155.5 128.7H161.8V133.8H155.5zM86.9 133.8H102.5V136.4H86.9zM108.7 133.8H115.0V136.4H108.7zM152.4 133.8H155.5V136.4H152.4zM174.2 133.8H177.4V136.4H174.2zM408.2 133.8H417.6V136.4H408.2zM430.0 133.8H436.3V136.4H430.0zM86.9 136.4H99.4V138.9H86.9zM115.0 136.4H121.2V138.9H115.0zM414.4 136.4H420.7V138.9H414.4zM430.0 136.4H433.2V138.9H430.0zM118.1 138.9H124.3V141.5H118.1zM177.4 138.9H180.5V141.5H177.4zM380.1 138.9H383.2V141.5H380.1zM420.7 138.9H430.0V141.5H420.7zM433.2 138.9H439.4V141.5H433.2zM37.0 141.5H52.6V144.0H37.0zM133.7 141.5H152.4V144.0H133.7zM180.5 141.5H183.6V144.0H180.5zM358.3 141.5H364.5V144.0H358.3zM402.0 141.5H405.1V144.0H402.0zM436.3 141.5H442.5V144.0H436.3zM183.6 144.0H186.7V146.5H183.6zM355.2 144.0H358.3V146.5H355.2zM370.8 144.0H377.0V146.5H370.8zM395.7 144.0H402.0V146.5H395.7zM405.1 144.0H408.2V146.5H405.1zM52.6 146.5H105.6V149.1H52.6zM130.6 146.5H149.3V149.1H130.6zM161.8 146.5H168.0V149.1H161.8zM193.0 146.5H221.0V149.1H193.0zM264.7 146.5H267.8V149.1H264.7zM330.2 144.0H333.3V149.1H330.2zM336.4 144.0H339.6V149.1H336.4zM352.0 146.5H358.3V149.1H352.0zM37.0 149.1H46.3V151.6H37.0zM127.4 149.1H130.6V151.6H127.4zM158.6 149.1H168.0V151.6H158.6zM174.2 149.1H186.7V151.6H174.2zM330.2 149.1H339.6V151.6H330.2zM348.9 149.1H352.0V151.6H348.9zM408.2 149.1H411.3V151.6H408.2zM433.2 149.1H436.3V151.6H433.2zM158.6 151.6H180.5V154.2H158.6zM183.6 151.6H189.8V154.2H183.6zM193.0 149.1H199.2V154.2H193.0zM299.0 151.6H302.1V154.2H299.0zM324.0 151.6H339.6V154.2H324.0zM342.7 151.6H345.8V154.2H342.7zM389.5 151.6H395.7V154.2H389.5zM430.0 151.6H439.4V154.2H430.0zM180.5 154.2H183.6V156.7H180.5zM189.8 154.2H193.0V156.7H189.8zM199.2 154.2H202.3V156.7H199.2zM295.9 154.2H302.1V156.7H295.9zM320.8 154.2H324.0V156.7H320.8zM336.4 154.2H339.6V156.7H336.4zM389.5 154.2H392.6V156.7H389.5zM395.7 154.2H398.8V156.7H395.7zM433.2 154.2H442.5V156.7H433.2zM464.3 151.6H467.5V156.7H464.3zM470.6 154.2H473.7V156.7H470.6zM30.7 156.7H43.2V159.3H30.7zM193.0 156.7H205.4V159.3H193.0zM292.8 156.7H299.0V159.3H292.8zM302.1 156.7H305.3V159.3H302.1zM317.7 156.7H320.8V159.3H317.7zM392.6 156.7H395.7V159.3H392.6zM398.8 156.7H402.0V159.3H398.8zM408.2 156.7H411.3V159.3H408.2zM430.0 156.7H442.5V159.3H430.0zM46.3 159.3H55.7V161.8H46.3zM158.6 159.3H161.8V161.8H158.6zM183.6 159.3H189.8V161.8H183.6zM193.0 159.3H202.3V161.8H193.0zM295.9 159.3H299.0V161.8H295.9zM314.6 159.3H317.7V161.8H314.6zM433.2 159.3H439.4V161.8H433.2zM77.5 161.8H90.0V164.3H77.5zM183.6 161.8H205.4V164.3H183.6zM302.1 161.8H305.3V164.3H302.1zM311.5 161.8H314.6V164.3H311.5zM398.8 161.8H402.0V164.3H398.8zM405.1 159.3H408.2V164.3H405.1zM411.3 159.3H414.4V164.3H411.3zM417.6 161.8H420.7V164.3H417.6zM423.8 161.8H426.9V164.3H423.8zM436.3 161.8H442.5V164.3H436.3zM86.9 164.3H93.1V166.9H86.9zM161.8 164.3H164.9V166.9H161.8zM183.6 164.3H186.7V166.9H183.6zM189.8 164.3H196.1V166.9H189.8zM202.3 164.3H205.4V166.9H202.3zM292.8 164.3H302.1V166.9H292.8zM308.4 164.3H317.7V166.9H308.4zM398.8 164.3H405.1V166.9H398.8zM414.4 164.3H436.3V166.9H414.4zM93.1 166.9H99.4V169.4H93.1zM180.5 166.9H183.6V169.4H180.5zM199.2 166.9H202.3V169.4H199.2zM302.1 166.9H308.4V169.4H302.1zM367.6 166.9H370.8V169.4H367.6zM380.1 166.9H383.2V169.4H380.1zM445.6 164.3H461.2V169.4H445.6zM102.5 169.4H108.7V172.0H102.5zM161.8 169.4H164.9V172.0H161.8zM202.3 169.4H205.4V172.0H202.3zM277.2 169.4H286.5V172.0H277.2zM305.3 169.4H308.4V172.0H305.3zM320.8 169.4H330.2V172.0H320.8zM345.8 169.4H364.5V172.0H345.8zM430.0 166.9H433.2V172.0H430.0zM439.4 169.4H464.3V172.0H439.4zM470.6 169.4H473.7V172.0H470.6zM186.7 166.9H189.8V174.5H186.7zM193.0 166.9H196.1V174.5H193.0zM280.3 172.0H283.4V174.5H280.3zM317.7 172.0H364.5V174.5H317.7zM442.5 172.0H455.0V174.5H442.5zM458.1 172.0H473.7V174.5H458.1zM476.8 166.9H479.9V174.5H476.8zM30.7 174.5H43.2V177.1H30.7zM46.3 174.5H61.9V177.1H46.3zM105.6 172.0H111.8V177.1H105.6zM330.2 174.5H333.3V177.1H330.2zM355.2 174.5H361.4V177.1H355.2zM451.9 174.5H455.0V177.1H451.9zM30.7 177.1H52.6V179.6H30.7zM55.7 177.1H65.1V179.6H55.7zM105.6 177.1H115.0V179.6H105.6zM189.8 174.5H193.0V179.6H189.8zM302.1 177.1H305.3V179.6H302.1zM308.4 172.0H311.5V179.6H308.4zM317.7 174.5H320.8V179.6H317.7zM358.3 177.1H361.4V179.6H358.3zM467.5 174.5H470.6V179.6H467.5zM476.8 177.1H479.9V179.6H476.8zM33.9 179.6H49.5V182.1H33.9zM55.7 179.6H68.2V182.1H55.7zM108.7 179.6H118.1V182.1H108.7zM277.2 179.6H280.3V182.1H277.2zM314.6 179.6H317.7V182.1H314.6zM43.2 182.1H46.3V184.7H43.2zM61.9 182.1H77.5V184.7H61.9zM299.0 179.6H302.1V184.7H299.0zM30.7 182.1H37.0V187.2H30.7zM40.1 184.7H46.3V187.2H40.1zM71.3 184.7H80.6V187.2H71.3zM121.2 184.7H124.3V187.2H121.2zM208.5 184.7H211.7V187.2H208.5zM33.9 187.2H49.5V189.8H33.9zM121.2 187.2H127.4V189.8H121.2zM214.8 184.7H217.9V189.8H214.8zM445.6 187.2H448.7V189.8H445.6zM37.0 189.8H55.7V192.3H37.0zM80.6 187.2H90.0V192.3H80.6zM96.2 189.8H105.6V192.3H96.2zM121.2 189.8H130.6V192.3H121.2zM189.8 189.8H193.0V192.3H189.8zM295.9 187.2H299.0V192.3H295.9zM40.1 192.3H52.6V194.9H40.1zM80.6 192.3H105.6V194.9H80.6zM118.1 192.3H124.3V194.9H118.1zM183.6 189.8H186.7V194.9H183.6zM205.4 189.8H208.5V194.9H205.4zM211.7 192.3H214.8V194.9H211.7zM286.5 187.2H289.7V194.9H286.5zM292.8 192.3H295.9V194.9H292.8zM164.9 194.9H168.0V197.4H164.9zM174.2 192.3H177.4V197.4H174.2zM289.7 194.9H292.8V197.4H289.7zM299.0 194.9H302.1V197.4H299.0zM305.3 194.9H308.4V197.4H305.3zM49.5 194.9H55.7V200.0H49.5zM86.9 194.9H99.4V200.0H86.9zM105.6 194.9H124.3V200.0H105.6zM205.4 194.9H217.9V200.0H205.4zM299.0 197.4H308.4V200.0H299.0zM302.1 200.0H311.5V202.5H302.1zM305.3 205.0H308.4V207.6H305.3zM333.3 205.0H336.4V207.6H333.3zM242.9 205.0H255.3V210.1H242.9zM305.3 207.6H324.0V210.1H305.3zM327.1 207.6H355.2V210.1H327.1zM255.3 210.1H258.5V212.7H255.3zM270.9 210.1H277.2V212.7H270.9zM280.3 210.1H361.4V212.7H280.3zM364.5 210.1H373.9V212.7H364.5zM389.5 210.1H402.0V212.7H389.5zM405.1 210.1H420.7V212.7H405.1zM274.1 212.7H283.4V215.2H274.1zM286.5 212.7H345.8V215.2H286.5zM348.9 212.7H380.1V215.2H348.9zM392.6 212.7H423.8V215.2H392.6zM164.9 205.0H168.0V217.8H164.9zM286.5 215.2H430.0V217.8H286.5zM302.1 217.8H311.5V220.3H302.1zM314.6 217.8H320.8V220.3H314.6zM324.0 217.8H389.5V220.3H324.0zM398.8 217.8H417.6V220.3H398.8zM420.7 217.8H430.0V220.3H420.7zM333.3 220.3H355.2V222.8H333.3zM367.6 220.3H373.9V222.8H367.6zM414.4 220.3H420.7V222.8H414.4zM161.8 220.3H168.0V225.4H161.8z"/>
<path fill="#F85A6E" shape-rendering="crispEdges" d="M80.6 75.3H83.8V80.4H80.6zM83.8 80.4H86.9V83.0H83.8zM86.9 83.0H93.1V85.5H86.9zM302.1 83.0H305.3V85.5H302.1zM93.1 85.5H96.2V88.0H93.1zM292.8 85.5H302.1V88.0H292.8zM305.3 85.5H308.4V88.0H305.3zM286.5 88.0H289.7V90.6H286.5zM295.9 88.0H302.1V90.6H295.9zM305.3 93.1H308.4V95.7H305.3zM177.4 95.7H183.6V98.2H177.4zM193.0 95.7H205.4V98.2H193.0zM242.9 95.7H246.0V98.2H242.9zM286.5 95.7H289.7V98.2H286.5zM193.0 98.2H202.3V100.8H193.0zM277.2 98.2H280.3V100.8H277.2zM74.4 100.8H77.5V103.3H74.4zM174.2 100.8H202.3V103.3H174.2zM299.0 98.2H302.1V103.3H299.0zM68.2 103.3H74.4V105.8H68.2zM196.1 103.3H199.2V105.8H196.1zM292.8 103.3H295.9V105.8H292.8zM417.6 103.3H420.7V105.8H417.6zM423.8 103.3H426.9V105.8H423.8zM65.1 105.8H68.2V108.4H65.1zM71.3 105.8H74.4V108.4H71.3zM164.9 103.3H186.7V108.4H164.9zM389.5 105.8H392.6V108.4H389.5zM55.7 108.4H58.8V110.9H55.7zM168.0 108.4H174.2V110.9H168.0zM177.4 108.4H183.6V110.9H177.4zM395.7 108.4H398.8V110.9H395.7zM61.9 108.4H74.4V113.5H61.9zM174.2 110.9H180.5V113.5H174.2zM348.9 110.9H352.0V113.5H348.9zM383.2 110.9H386.4V113.5H383.2zM395.7 110.9H405.1V113.5H395.7zM65.1 113.5H77.5V116.0H65.1zM395.7 113.5H398.8V116.0H395.7zM65.1 116.0H80.6V118.6H65.1zM352.0 116.0H355.2V118.6H352.0zM358.3 116.0H361.4V118.6H358.3zM402.0 113.5H405.1V118.6H402.0zM355.2 118.6H358.3V121.1H355.2zM386.4 121.1H389.5V123.7H386.4zM398.8 118.6H402.0V123.7H398.8zM143.0 128.7H155.5V133.8H143.0zM102.5 133.8H108.7V136.4H102.5zM411.3 136.4H414.4V138.9H411.3zM80.6 138.9H93.1V141.5H80.6zM111.8 138.9H118.1V141.5H111.8zM417.6 138.9H420.7V141.5H417.6zM430.0 138.9H433.2V141.5H430.0zM52.6 141.5H65.1V144.0H52.6zM118.1 141.5H133.7V144.0H118.1zM405.1 141.5H408.2V144.0H405.1zM426.9 141.5H436.3V144.0H426.9zM168.0 144.0H180.5V146.5H168.0zM252.2 144.0H255.3V146.5H252.2zM358.3 144.0H361.4V146.5H358.3zM364.5 144.0H370.8V146.5H364.5zM380.1 144.0H386.4V146.5H380.1zM461.2 144.0H464.3V146.5H461.2zM467.5 144.0H470.6V146.5H467.5zM49.5 146.5H52.6V149.1H49.5zM105.6 146.5H118.1V149.1H105.6zM155.5 144.0H158.6V149.1H155.5zM333.3 144.0H336.4V149.1H333.3zM370.8 146.5H373.9V149.1H370.8zM380.1 146.5H383.2V149.1H380.1zM408.2 144.0H411.3V149.1H408.2zM476.8 144.0H479.9V149.1H476.8zM30.7 149.1H37.0V151.6H30.7zM168.0 149.1H174.2V151.6H168.0zM189.8 149.1H193.0V151.6H189.8zM352.0 149.1H355.2V151.6H352.0zM392.6 146.5H395.7V151.6H392.6zM430.0 146.5H433.2V151.6H430.0zM436.3 149.1H442.5V151.6H436.3zM467.5 149.1H476.8V151.6H467.5zM339.6 151.6H342.7V154.2H339.6zM345.8 151.6H348.9V154.2H345.8zM395.7 151.6H398.8V154.2H395.7zM402.0 146.5H405.1V154.2H402.0zM439.4 151.6H445.6V154.2H439.4zM448.7 151.6H451.9V154.2H448.7zM461.2 151.6H464.3V154.2H461.2zM193.0 154.2H199.2V156.7H193.0zM324.0 154.2H336.4V156.7H324.0zM339.6 154.2H345.8V156.7H339.6zM392.6 154.2H395.7V156.7H392.6zM398.8 154.2H405.1V156.7H398.8zM414.4 154.2H417.6V156.7H414.4zM458.1 154.2H461.2V156.7H458.1zM467.5 151.6H470.6V156.7H467.5zM158.6 154.2H161.8V159.3H158.6zM320.8 156.7H327.1V159.3H320.8zM330.2 156.7H333.3V159.3H330.2zM389.5 156.7H392.6V159.3H389.5zM395.7 156.7H398.8V159.3H395.7zM402.0 156.7H405.1V159.3H402.0zM411.3 156.7H417.6V159.3H411.3zM420.7 151.6H423.8V159.3H420.7zM442.5 154.2H445.6V159.3H442.5zM448.7 156.7H451.9V159.3H448.7zM455.0 156.7H458.1V159.3H455.0zM470.6 156.7H479.9V159.3H470.6zM40.1 159.3H46.3V161.8H40.1zM317.7 159.3H320.8V161.8H317.7zM398.8 159.3H402.0V161.8H398.8zM408.2 159.3H411.3V161.8H408.2zM420.7 159.3H430.0V161.8H420.7zM439.4 159.3H451.9V161.8H439.4zM458.1 159.3H461.2V161.8H458.1zM464.3 159.3H467.5V161.8H464.3zM55.7 161.8H77.5V164.3H55.7zM211.7 161.8H214.8V164.3H211.7zM292.8 159.3H295.9V164.3H292.8zM314.6 161.8H317.7V164.3H314.6zM330.2 161.8H333.3V164.3H330.2zM370.8 161.8H377.0V164.3H370.8zM386.4 161.8H389.5V164.3H386.4zM392.6 161.8H398.8V164.3H392.6zM402.0 161.8H405.1V164.3H402.0zM414.4 159.3H417.6V164.3H414.4zM420.7 161.8H423.8V164.3H420.7zM426.9 161.8H430.0V164.3H426.9zM442.5 161.8H451.9V164.3H442.5zM455.0 161.8H458.1V164.3H455.0zM83.8 164.3H86.9V166.9H83.8zM196.1 164.3H199.2V166.9H196.1zM317.7 164.3H320.8V166.9H317.7zM352.0 164.3H355.2V166.9H352.0zM364.5 164.3H380.1V166.9H364.5zM383.2 164.3H392.6V166.9H383.2zM83.8 166.9H93.1V169.4H83.8zM164.9 166.9H168.0V169.4H164.9zM202.3 166.9H205.4V169.4H202.3zM289.7 166.9H299.0V169.4H289.7zM324.0 164.3H330.2V169.4H324.0zM342.7 166.9H352.0V169.4H342.7zM361.4 166.9H367.6V169.4H361.4zM461.2 166.9H464.3V169.4H461.2zM467.5 166.9H470.6V169.4H467.5zM40.1 169.4H43.2V172.0H40.1zM49.5 169.4H52.6V172.0H49.5zM96.2 169.4H102.5V172.0H96.2zM168.0 169.4H171.1V172.0H168.0zM302.1 169.4H305.3V172.0H302.1zM308.4 166.9H311.5V172.0H308.4zM330.2 169.4H345.8V172.0H330.2zM464.3 169.4H470.6V172.0H464.3zM473.7 166.9H476.8V172.0H473.7zM30.7 172.0H58.8V174.5H30.7zM99.4 172.0H105.6V174.5H99.4zM189.8 166.9H193.0V174.5H189.8zM283.4 172.0H286.5V174.5H283.4zM43.2 174.5H46.3V177.1H43.2zM61.9 174.5H65.1V177.1H61.9zM96.2 174.5H105.6V177.1H96.2zM286.5 174.5H289.7V177.1H286.5zM302.1 174.5H305.3V177.1H302.1zM65.1 177.1H68.2V179.6H65.1zM93.1 177.1H105.6V179.6H93.1zM174.2 174.5H177.4V179.6H174.2zM68.2 179.6H80.6V182.1H68.2zM96.2 179.6H108.7V182.1H96.2zM177.4 179.6H180.5V182.1H177.4zM189.8 179.6H193.0V182.1H189.8zM37.0 182.1H43.2V184.7H37.0zM58.8 182.1H61.9V184.7H58.8zM77.5 182.1H80.6V184.7H77.5zM105.6 182.1H118.1V184.7H105.6zM168.0 182.1H171.1V184.7H168.0zM37.0 184.7H40.1V187.2H37.0zM80.6 184.7H86.9V187.2H80.6zM93.1 182.1H102.5V187.2H93.1zM108.7 184.7H121.2V187.2H108.7zM211.7 184.7H214.8V187.2H211.7zM96.2 187.2H121.2V189.8H96.2zM208.5 187.2H214.8V189.8H208.5zM90.0 189.8H96.2V192.3H90.0zM105.6 189.8H121.2V192.3H105.6zM211.7 189.8H214.8V192.3H211.7zM105.6 192.3H118.1V194.9H105.6zM208.5 192.3H211.7V194.9H208.5zM299.0 184.7H302.1V194.9H299.0zM168.0 194.9H174.2V197.4H168.0zM302.1 194.9H305.3V197.4H302.1zM161.8 210.1H164.9V212.7H161.8z"/>
<path fill="#D4508C" shape-rendering="crispEdges" d="M83.8 77.9H86.9V80.4H83.8zM86.9 80.4H90.0V83.0H86.9zM364.5 83.0H367.6V85.5H364.5zM292.8 88.0H295.9V90.6H292.8zM305.3 88.0H308.4V90.6H305.3zM280.3 93.1H283.4V95.7H280.3zM280.3 98.2H283.4V100.8H280.3zM342.7 95.7H345.8V100.8H342.7zM186.7 103.3H196.1V105.8H186.7zM430.0 103.3H433.2V105.8H430.0zM68.2 105.8H71.3V108.4H68.2zM348.9 108.4H352.0V110.9H348.9zM352.0 110.9H358.3V113.5H352.0zM405.1 110.9H408.2V113.5H405.1zM355.2 113.5H358.3V116.0H355.2zM398.8 113.5H402.0V118.6H398.8zM386.4 118.6H389.5V121.1H386.4zM395.7 118.6H398.8V121.1H395.7zM392.6 121.1H395.7V123.7H392.6zM405.1 121.1H408.2V123.7H405.1zM99.4 136.4H115.0V138.9H99.4zM93.1 138.9H99.4V141.5H93.1zM65.1 141.5H80.6V144.0H65.1zM355.2 141.5H358.3V144.0H355.2zM408.2 138.9H411.3V144.0H408.2zM423.8 141.5H426.9V144.0H423.8zM30.7 144.0H37.0V146.5H30.7zM58.8 144.0H71.3V146.5H58.8zM133.7 144.0H149.3V146.5H133.7zM361.4 144.0H364.5V146.5H361.4zM377.0 144.0H380.1V146.5H377.0zM402.0 144.0H405.1V146.5H402.0zM426.9 144.0H442.5V146.5H426.9zM458.1 144.0H461.2V146.5H458.1zM40.1 146.5H49.5V149.1H40.1zM118.1 144.0H130.6V149.1H118.1zM168.0 146.5H180.5V149.1H168.0zM186.7 146.5H193.0V149.1H186.7zM358.3 146.5H370.8V149.1H358.3zM373.9 146.5H377.0V149.1H373.9zM383.2 146.5H386.4V149.1H383.2zM395.7 146.5H402.0V149.1H395.7zM405.1 146.5H408.2V149.1H405.1zM423.8 146.5H430.0V149.1H423.8zM433.2 146.5H442.5V149.1H433.2zM473.7 144.0H476.8V149.1H473.7zM186.7 149.1H189.8V151.6H186.7zM355.2 149.1H358.3V151.6H355.2zM361.4 149.1H364.5V151.6H361.4zM367.6 149.1H377.0V151.6H367.6zM380.1 149.1H383.2V151.6H380.1zM389.5 149.1H392.6V151.6H389.5zM395.7 149.1H398.8V151.6H395.7zM414.4 138.9H417.6V151.6H414.4zM423.8 149.1H426.9V151.6H423.8zM442.5 149.1H448.7V151.6H442.5zM464.3 149.1H467.5V151.6H464.3zM348.9 151.6H355.2V154.2H348.9zM358.3 151.6H361.4V154.2H358.3zM373.9 151.6H380.1V154.2H373.9zM398.8 151.6H402.0V154.2H398.8zM451.9 151.6H455.0V154.2H451.9zM458.1 151.6H461.2V154.2H458.1zM345.8 154.2H348.9V156.7H345.8zM364.5 154.2H367.6V156.7H364.5zM380.1 154.2H383.2V156.7H380.1zM405.1 154.2H408.2V156.7H405.1zM411.3 151.6H414.4V156.7H411.3zM451.9 154.2H458.1V156.7H451.9zM461.2 154.2H464.3V156.7H461.2zM327.1 156.7H330.2V159.3H327.1zM333.3 156.7H342.7V159.3H333.3zM355.2 154.2H358.3V159.3H355.2zM367.6 156.7H370.8V159.3H367.6zM383.2 156.7H386.4V159.3H383.2zM426.9 154.2H430.0V159.3H426.9zM445.6 151.6H448.7V159.3H445.6zM451.9 156.7H455.0V159.3H451.9zM458.1 156.7H461.2V159.3H458.1zM30.7 159.3H40.1V161.8H30.7zM320.8 159.3H336.4V161.8H320.8zM342.7 159.3H345.8V161.8H342.7zM361.4 159.3H364.5V161.8H361.4zM370.8 159.3H377.0V161.8H370.8zM402.0 159.3H405.1V161.8H402.0zM417.6 156.7H420.7V161.8H417.6zM451.9 159.3H458.1V161.8H451.9zM461.2 159.3H464.3V161.8H461.2zM467.5 156.7H470.6V161.8H467.5zM30.7 161.8H55.7V164.3H30.7zM295.9 161.8H299.0V164.3H295.9zM317.7 161.8H320.8V164.3H317.7zM324.0 161.8H330.2V164.3H324.0zM333.3 161.8H339.6V164.3H333.3zM352.0 161.8H355.2V164.3H352.0zM358.3 161.8H361.4V164.3H358.3zM367.6 161.8H370.8V164.3H367.6zM377.0 161.8H380.1V164.3H377.0zM383.2 161.8H386.4V164.3H383.2zM389.5 161.8H392.6V164.3H389.5zM451.9 161.8H455.0V164.3H451.9zM458.1 161.8H461.2V164.3H458.1zM30.7 164.3H33.9V166.9H30.7zM37.0 164.3H49.5V166.9H37.0zM52.6 164.3H58.8V166.9H52.6zM71.3 164.3H83.8V166.9H71.3zM320.8 164.3H324.0V166.9H320.8zM330.2 164.3H352.0V166.9H330.2zM355.2 164.3H364.5V166.9H355.2zM380.1 164.3H383.2V166.9H380.1zM464.3 161.8H470.6V166.9H464.3zM476.8 159.3H479.9V166.9H476.8zM30.7 166.9H55.7V169.4H30.7zM80.6 166.9H83.8V169.4H80.6zM311.5 166.9H324.0V169.4H311.5zM330.2 166.9H342.7V169.4H330.2zM464.3 166.9H467.5V169.4H464.3zM470.6 166.9H473.7V169.4H470.6zM30.7 169.4H40.1V172.0H30.7zM43.2 169.4H49.5V172.0H43.2zM52.6 169.4H58.8V172.0H52.6zM86.9 169.4H96.2V172.0H86.9zM58.8 172.0H65.1V174.5H58.8zM93.1 172.0H99.4V174.5H93.1zM171.1 172.0H177.4V174.5H171.1zM286.5 169.4H289.7V174.5H286.5zM302.1 172.0H305.3V174.5H302.1zM311.5 172.0H314.6V174.5H311.5zM90.0 174.5H96.2V177.1H90.0zM314.6 174.5H317.7V177.1H314.6zM68.2 177.1H80.6V179.6H68.2zM177.4 177.1H180.5V179.6H177.4zM286.5 177.1H289.7V179.6H286.5zM299.0 174.5H302.1V179.6H299.0zM311.5 177.1H317.7V179.6H311.5zM80.6 179.6H83.8V182.1H80.6zM90.0 179.6H96.2V182.1H90.0zM171.1 179.6H174.2V182.1H171.1zM80.6 182.1H93.1V184.7H80.6zM174.2 182.1H177.4V184.7H174.2zM86.9 184.7H93.1V187.2H86.9zM102.5 184.7H108.7V187.2H102.5zM193.0 184.7H196.1V187.2H193.0zM90.0 187.2H96.2V189.8H90.0zM208.5 189.8H211.7V192.3H208.5zM183.6 194.9H186.7V197.4H183.6zM161.8 212.7H164.9V215.2H161.8z"/>
<path fill="#A24E98" shape-rendering="crispEdges" d="M280.3 95.7H283.4V98.2H280.3zM289.7 100.8H292.8V103.3H289.7zM430.0 100.8H433.2V103.3H430.0zM426.9 103.3H430.0V105.8H426.9zM386.4 105.8H389.5V108.4H386.4zM383.2 108.4H389.5V110.9H383.2zM389.5 110.9H392.6V113.5H389.5zM389.5 113.5H395.7V116.0H389.5zM395.7 116.0H398.8V118.6H395.7zM389.5 118.6H392.6V121.1H389.5zM405.1 113.5H408.2V121.1H405.1zM177.4 133.8H180.5V136.4H177.4zM174.2 136.4H177.4V138.9H174.2zM348.9 133.8H352.0V138.9H348.9zM99.4 138.9H111.8V141.5H99.4zM80.6 141.5H86.9V144.0H80.6zM161.8 141.5H164.9V144.0H161.8zM380.1 141.5H383.2V144.0H380.1zM417.6 141.5H423.8V144.0H417.6zM37.0 144.0H58.8V146.5H37.0zM71.3 144.0H77.5V146.5H71.3zM111.8 141.5H118.1V146.5H111.8zM130.6 144.0H133.7V146.5H130.6zM417.6 144.0H420.7V146.5H417.6zM423.8 144.0H426.9V146.5H423.8zM464.3 144.0H467.5V146.5H464.3zM470.6 144.0H473.7V146.5H470.6zM30.7 146.5H33.9V149.1H30.7zM37.0 146.5H40.1V149.1H37.0zM417.6 146.5H423.8V149.1H417.6zM442.5 144.0H458.1V149.1H442.5zM461.2 146.5H473.7V149.1H461.2zM155.5 149.1H158.6V151.6H155.5zM358.3 149.1H361.4V151.6H358.3zM364.5 149.1H367.6V151.6H364.5zM377.0 149.1H380.1V151.6H377.0zM383.2 149.1H386.4V151.6H383.2zM398.8 149.1H402.0V151.6H398.8zM405.1 149.1H408.2V151.6H405.1zM411.3 138.9H414.4V151.6H411.3zM420.7 149.1H423.8V151.6H420.7zM426.9 149.1H430.0V151.6H426.9zM448.7 149.1H455.0V151.6H448.7zM458.1 149.1H464.3V151.6H458.1zM355.2 151.6H358.3V154.2H355.2zM361.4 151.6H367.6V154.2H361.4zM370.8 151.6H373.9V154.2H370.8zM380.1 151.6H383.2V154.2H380.1zM386.4 151.6H389.5V154.2H386.4zM408.2 151.6H411.3V154.2H408.2zM414.4 151.6H420.7V154.2H414.4zM455.0 151.6H458.1V154.2H455.0zM348.9 154.2H355.2V156.7H348.9zM358.3 154.2H364.5V156.7H358.3zM367.6 154.2H377.0V156.7H367.6zM383.2 154.2H386.4V156.7H383.2zM417.6 154.2H420.7V156.7H417.6zM448.7 154.2H451.9V156.7H448.7zM342.7 156.7H348.9V159.3H342.7zM352.0 156.7H355.2V159.3H352.0zM358.3 156.7H361.4V159.3H358.3zM364.5 156.7H367.6V159.3H364.5zM370.8 156.7H383.2V159.3H370.8zM405.1 156.7H408.2V159.3H405.1zM423.8 151.6H426.9V159.3H423.8zM464.3 156.7H467.5V159.3H464.3zM189.8 156.7H193.0V161.8H189.8zM302.1 159.3H305.3V161.8H302.1zM336.4 159.3H342.7V161.8H336.4zM345.8 159.3H348.9V161.8H345.8zM355.2 159.3H361.4V161.8H355.2zM364.5 159.3H370.8V161.8H364.5zM377.0 159.3H383.2V161.8H377.0zM395.7 159.3H398.8V161.8H395.7zM320.8 161.8H324.0V164.3H320.8zM339.6 161.8H342.7V164.3H339.6zM345.8 161.8H352.0V164.3H345.8zM355.2 161.8H358.3V164.3H355.2zM361.4 161.8H367.6V164.3H361.4zM380.1 161.8H383.2V164.3H380.1zM33.9 164.3H37.0V166.9H33.9zM49.5 164.3H52.6V166.9H49.5zM58.8 164.3H71.3V166.9H58.8zM461.2 161.8H464.3V166.9H461.2zM470.6 159.3H476.8V166.9H470.6zM55.7 166.9H65.1V169.4H55.7zM68.2 166.9H80.6V169.4H68.2zM205.4 166.9H208.5V169.4H205.4zM352.0 166.9H361.4V169.4H352.0zM58.8 169.4H74.4V172.0H58.8zM80.6 169.4H86.9V172.0H80.6zM289.7 169.4H292.8V172.0H289.7zM311.5 169.4H320.8V172.0H311.5zM65.1 172.0H68.2V174.5H65.1zM71.3 172.0H74.4V174.5H71.3zM86.9 172.0H93.1V174.5H86.9zM168.0 172.0H171.1V174.5H168.0zM299.0 169.4H302.1V174.5H299.0zM314.6 172.0H317.7V174.5H314.6zM65.1 174.5H80.6V177.1H65.1zM86.9 174.5H90.0V177.1H86.9zM193.0 174.5H196.1V177.1H193.0zM199.2 174.5H202.3V177.1H199.2zM311.5 174.5H314.6V177.1H311.5zM86.9 177.1H93.1V179.6H86.9zM83.8 179.6H90.0V182.1H83.8zM174.2 179.6H177.4V182.1H174.2zM311.5 179.6H314.6V182.1H311.5zM102.5 182.1H105.6V184.7H102.5zM171.1 182.1H174.2V184.7H171.1zM193.0 182.1H196.1V184.7H193.0zM171.1 189.8H174.2V194.9H171.1zM161.8 217.8H164.9V220.3H161.8z"/>
<path fill="#6C5398" shape-rendering="crispEdges" d="M414.4 103.3H417.6V105.8H414.4zM417.6 105.8H420.7V108.4H417.6zM386.4 110.9H389.5V113.5H386.4zM352.0 113.5H355.2V116.0H352.0zM392.6 116.0H395.7V121.1H392.6zM86.9 141.5H93.1V144.0H86.9zM77.5 144.0H93.1V146.5H77.5zM105.6 144.0H111.8V146.5H105.6zM420.7 144.0H423.8V146.5H420.7zM158.6 146.5H161.8V149.1H158.6zM417.6 149.1H420.7V151.6H417.6zM455.0 149.1H458.1V151.6H455.0zM155.5 151.6H158.6V154.2H155.5zM367.6 151.6H370.8V154.2H367.6zM383.2 151.6H386.4V154.2H383.2zM405.1 151.6H408.2V154.2H405.1zM426.9 151.6H430.0V154.2H426.9zM377.0 154.2H380.1V156.7H377.0zM386.4 154.2H389.5V156.7H386.4zM408.2 154.2H411.3V156.7H408.2zM348.9 156.7H352.0V159.3H348.9zM361.4 156.7H364.5V159.3H361.4zM461.2 156.7H464.3V159.3H461.2zM348.9 159.3H355.2V161.8H348.9zM383.2 159.3H386.4V161.8H383.2zM299.0 161.8H302.1V164.3H299.0zM342.7 161.8H345.8V164.3H342.7zM65.1 166.9H68.2V169.4H65.1zM74.4 169.4H80.6V172.0H74.4zM68.2 172.0H71.3V174.5H68.2zM74.4 172.0H86.9V174.5H74.4zM80.6 174.5H86.9V179.6H80.6zM189.8 182.1H193.0V184.7H189.8zM286.5 184.7H289.7V187.2H286.5zM171.1 184.7H174.2V189.8H171.1zM186.7 192.3H189.8V194.9H186.7zM161.8 215.2H164.9V217.8H161.8z"/>
<path fill="#334E83" shape-rendering="crispEdges" d="M292.8 98.2H295.9V100.8H292.8zM420.7 103.3H423.8V108.4H420.7zM386.4 113.5H389.5V116.0H386.4zM386.4 116.0H392.6V118.6H386.4zM389.5 121.1H392.6V123.7H389.5zM395.7 121.1H398.8V123.7H395.7zM402.0 118.6H405.1V123.7H402.0zM93.1 141.5H99.4V144.0H93.1zM105.6 141.5H111.8V144.0H105.6zM93.1 144.0H105.6V146.5H93.1zM33.9 146.5H37.0V149.1H33.9zM377.0 146.5H380.1V149.1H377.0zM458.1 146.5H461.2V149.1H458.1zM386.4 146.5H389.5V151.6H386.4zM155.5 154.2H158.6V159.3H155.5zM386.4 156.7H389.5V159.3H386.4zM386.4 159.3H395.7V161.8H386.4zM196.1 172.0H199.2V174.5H196.1zM289.7 172.0H292.8V174.5H289.7zM168.0 174.5H171.1V177.1H168.0zM202.3 177.1H205.4V179.6H202.3zM168.0 179.6H171.1V182.1H168.0zM199.2 182.1H202.3V184.7H199.2zM168.0 184.7H171.1V187.2H168.0zM295.9 184.7H299.0V187.2H295.9zM292.8 189.8H295.9V192.3H292.8z"/>
<path fill="#0D4A5E" shape-rendering="crispEdges" d="M292.8 100.8H295.9V103.3H292.8zM373.9 113.5H377.0V116.0H373.9zM99.4 141.5H105.6V144.0H99.4zM158.6 141.5H161.8V146.5H158.6zM299.0 156.7H302.1V161.8H299.0zM155.5 159.3H158.6V164.3H155.5zM158.6 164.3H161.8V166.9H158.6zM158.6 166.9H164.9V169.4H158.6zM283.4 166.9H289.7V169.4H283.4zM164.9 169.4H168.0V172.0H164.9zM292.8 169.4H299.0V174.5H292.8zM196.1 174.5H199.2V177.1H196.1zM168.0 177.1H171.1V179.6H168.0zM193.0 177.1H202.3V179.6H193.0zM289.7 174.5H299.0V179.6H289.7zM193.0 179.6H205.4V182.1H193.0zM196.1 182.1H199.2V184.7H196.1zM286.5 179.6H299.0V184.7H286.5zM289.7 184.7H295.9V189.8H289.7zM168.0 187.2H171.1V194.9H168.0zM289.7 189.8H292.8V194.9H289.7z"/>
<g fill="none" stroke="#000" stroke-width="1.1" stroke-linejoin="round" stroke-linecap="round"><polyline points="47.3,69.5 49.8,68.7 54.1,67.8 48.8,66.0 49.8,65.3 61.6,62.2 71.6,63.5 81.0,64.4 87.2,64.9 94.7,63.9 100.9,64.5 107.2,65.3 113.4,66.7 119.6,66.4 125.9,65.8 134.6,66.7 139.6,64.5 139.6,66.4 144.6,65.8 148.3,67.3 150.8,64.5 154.6,65.2 155.2,68.3 149.6,69.0 148.3,70.9 144.0,72.8 139.6,75.3 139.4,78.1 142.1,80.4 147.1,81.7 152.1,82.7 154.3,85.5 156.5,87.7 158.3,87.4 158.4,83.6 160.8,81.0 161.2,78.5 159.6,76.0 160.2,73.4 165.8,73.7 169.6,75.3 170.2,77.9 172.7,78.8 175.8,76.2 176.4,77.9 179.5,81.0 182.0,83.0 185.8,86.1 187.4,86.8 185.2,87.5 182.0,89.1 177.0,89.1 173.9,90.0 176.4,90.6 175.8,91.9 176.0,93.1 180.8,94.9 182.0,94.5 177.7,96.2 174.5,97.5 174.8,95.4 173.3,95.8 169.3,97.3 168.8,98.7 169.6,99.7 167.7,100.3 164.6,101.3 164.6,102.7 163.3,103.6 162.6,105.2 162.1,106.1 162.7,108.1 160.8,109.0 158.3,110.4 155.8,112.5 155.3,114.4 156.3,116.8 157.1,119.2 156.6,120.9 155.6,120.9 154.8,119.2 153.6,117.4 152.6,114.9 150.8,115.1 149.0,114.2 146.5,114.2 145.2,114.5 145.6,115.9 144.0,115.9 142.1,115.3 139.6,115.1 138.4,115.8 135.6,117.7 135.4,119.8 135.0,122.4 135.0,124.9 135.6,126.8 136.9,128.5 139.0,129.8 142.1,129.2 143.4,128.7 144.0,126.8 144.6,125.8 148.3,125.6 147.7,128.1 146.7,129.6 146.8,131.9 149.6,132.7 152.1,133.4 153.0,134.5 152.6,137.6 152.5,138.9 154.0,140.8 155.8,141.5 157.7,140.7 159.6,141.2 160.4,142.1 162.1,140.9 163.3,139.2 165.8,138.5 167.7,137.1 167.6,138.9 168.3,139.5 169.6,138.3 171.4,139.5 174.5,139.4 177.0,139.4 179.5,139.3 180.8,140.2 182.0,142.1 183.9,144.0 185.8,145.3 188.3,145.4 190.8,145.9 192.6,147.4 193.9,150.6 194.5,152.9 196.4,154.2 199.5,154.2 202.0,156.1 204.5,156.5 207.6,156.7 210.7,159.0 212.9,159.6 213.2,162.4 212.6,165.0 210.7,166.9 208.9,169.4 208.2,172.0 208.0,175.2 207.0,178.3 205.7,180.9 204.5,182.1 201.4,182.5 198.9,183.4 196.4,186.0 196.3,189.1 194.5,191.7 192.6,193.3 190.8,195.5 188.9,197.2 186.4,197.2 183.9,196.4 185.4,198.7 185.2,201.2 183.3,202.2 179.5,202.5 179.2,204.4 175.8,205.0 176.4,206.9 175.8,209.5 172.7,211.4 174.5,213.3 172.0,216.5 170.8,218.4 171.4,219.5 169.6,220.3 168.3,221.3 165.8,220.3 163.9,217.8 162.7,213.9 164.6,211.4 165.2,207.6 164.8,205.0 165.2,201.2 166.4,197.4 167.6,194.9 167.7,191.1 167.9,187.2 168.9,183.4 169.3,178.3 169.2,176.2 167.1,174.5 163.3,172.4 161.7,170.1 160.2,167.5 158.3,163.7 157.1,161.8 155.6,159.9 156.7,157.2 157.1,155.7 156.0,154.2 157.1,151.6 158.6,150.6 160.2,148.4 160.4,144.6 159.8,143.7 158.3,142.1 157.1,143.4 155.2,142.7 152.7,142.1 150.0,140.2 150.0,138.7 147.7,136.4 145.8,135.7 142.7,135.1 140.9,133.2 139.0,132.3 136.5,132.9 134.0,132.3 130.9,130.9 127.8,129.6 125.3,127.5 125.5,125.6 124.6,123.7 121.5,120.9 119.0,117.9 116.5,115.4 114.0,112.8 115.3,116.0 117.8,119.8 119.6,122.4 120.3,123.7 119.3,123.0 117.1,121.4 114.7,117.9 113.4,117.3 112.5,114.7 110.9,111.6 109.0,109.7 106.4,108.9 104.7,106.1 103.4,104.6 102.4,102.7 101.8,101.4 101.9,99.5 102.2,96.9 102.2,94.1 101.3,91.3 103.4,91.6 102.8,90.2 100.9,89.3 97.8,88.0 97.2,86.1 94.7,84.2 93.4,83.0 90.9,80.4 87.2,78.8 82.8,76.9 79.7,76.6 76.0,76.2 72.2,76.0 69.1,75.3 67.9,77.2 64.7,78.5 61.6,80.4 58.5,81.7 54.8,83.0 51.6,83.6 56.0,81.9 59.7,79.8 61.0,78.3 57.3,78.1 54.8,76.6 51.6,75.6 50.4,74.1 51.6,72.5 56.0,71.0 51.0,70.9 47.3,69.5"/><polyline points="165.8,53.7 172.0,50.5 182.0,48.6 200.7,47.6 219.5,46.7 231.9,48.6 235.7,51.2 233.2,55.0 231.9,58.2 229.4,60.7 229.4,63.2 225.7,65.2 218.2,66.4 213.2,69.0 208.9,69.6 205.7,72.1 203.2,76.0 200.7,76.3 197.0,74.7 193.9,72.1 192.0,69.0 190.1,65.8 193.3,63.9 189.5,62.6 188.3,60.1 184.5,56.9 179.5,56.0 174.5,55.9 170.8,55.0 165.8,53.7"/><polyline points="157.1,59.4 167.1,62.0 172.0,63.2 173.3,64.5 179.5,67.7 180.2,68.3 177.0,70.2 175.2,72.8 172.0,73.4 168.3,72.1 165.2,70.9 159.6,70.9 164.6,69.0 165.8,66.4 162.1,65.2 158.3,63.9 149.6,63.6 145.8,62.0 150.8,59.2 157.1,59.4"/><polyline points="109.7,62.6 112.2,61.1 115.9,60.1 120.9,60.7 125.9,59.8 128.4,62.0 130.9,63.9 127.1,65.4 123.4,64.8 119.6,65.5 115.9,64.1 110.9,64.9 113.4,63.5 109.7,62.6"/><polyline points="100.3,61.3 107.2,58.2 112.8,59.4 107.2,62.0 100.3,61.3"/><polyline points="144.6,55.6 157.1,55.9 163.3,52.4 172.0,50.5 179.5,48.6 163.3,47.3 144.6,49.3 137.1,51.2 144.6,55.6"/><polyline points="142.1,58.2 157.1,58.2 157.1,56.3 142.1,55.2 142.1,58.2"/><polyline points="109.7,57.5 125.9,56.9 125.9,55.2 112.2,55.6 109.7,57.5"/><polyline points="130.9,60.1 135.9,59.4 137.1,61.3 134.6,62.6 130.9,60.1"/><polyline points="148.3,71.5 155.8,71.8 154.6,69.6 149.6,69.0 148.3,71.5"/><polyline points="138.4,61.3 144.6,61.3 144.6,58.8 138.4,58.8 138.4,61.3"/><polyline points="132.1,53.7 128.4,52.4 134.6,51.2 137.1,52.4 132.1,53.7"/><polyline points="103.4,55.6 110.9,54.3 112.8,55.9 107.2,56.5 103.4,55.6"/><polyline points="130.9,56.9 135.9,55.6 134.6,57.5 130.9,56.9"/><polyline points="137.1,57.5 140.9,56.9 140.2,58.0 137.1,57.5"/><polyline points="133.4,65.2 137.1,64.5 137.7,66.0 134.0,65.9 133.4,65.2"/><polyline points="138.4,53.7 143.4,53.1 144.6,49.9 138.4,50.3 138.4,53.7"/><polyline points="119.6,54.3 124.6,53.3 127.1,54.6 119.6,54.3"/><polyline points="152.1,69.6 157.1,70.2 157.7,71.5 153.3,71.3 152.1,69.6"/><polyline points="120.8,53.3 119.3,52.8 116.5,52.7 114.7,53.1 114.3,53.6 116.5,53.9 119.4,53.9 120.8,53.3"/><polyline points="127.9,54.5 127.7,53.9 125.3,53.8 123.9,54.2 123.6,54.8 125.3,55.1 127.6,55.0 127.9,54.5"/><polyline points="140.2,53.3 139.0,52.5 136.7,52.7 135.3,53.0 134.5,53.8 136.5,54.3 138.8,54.1 140.2,53.3"/><polyline points="140.0,54.6 139.6,54.2 138.0,54.1 136.6,54.4 136.6,54.8 138.0,55.0 139.2,54.9 140.0,54.6"/><polyline points="161.0,59.7 159.9,59.3 157.7,59.1 156.0,59.5 156.1,59.9 157.7,60.3 160.7,60.3 161.0,59.7"/><polyline points="155.9,73.0 155.3,72.6 153.5,72.5 151.9,72.8 152.1,73.3 153.5,73.6 154.8,73.3 155.9,73.0"/><polyline points="158.5,74.1 158.0,73.7 156.8,73.7 156.1,73.9 156.2,74.2 156.8,74.5 157.8,74.3 158.5,74.1"/><polyline points="127.0,59.6 126.2,59.2 124.8,59.0 123.9,59.4 123.5,59.8 124.9,60.0 126.2,59.9 127.0,59.6"/><polyline points="134.7,58.8 134.5,58.3 133.1,58.4 131.9,58.6 132.3,59.0 133.1,59.2 134.5,59.3 134.7,58.8"/><polyline points="128.0,57.3 127.4,57.0 126.2,57.0 124.9,57.1 125.5,57.4 126.2,57.6 127.6,57.6 128.0,57.3"/><polyline points="111.0,56.5 110.2,56.1 108.6,56.0 107.6,56.3 107.1,56.8 108.5,57.1 110.3,56.9 111.0,56.5"/><polyline points="150.7,54.3 149.5,53.7 146.1,53.4 143.8,54.0 143.7,54.7 146.2,55.1 149.1,54.9 150.7,54.3"/><polyline points="154.5,56.3 153.4,55.8 149.9,55.7 148.1,56.1 148.3,56.4 150.1,56.7 152.9,56.6 154.5,56.3"/><polyline points="133.8,55.0 133.4,54.5 131.7,54.4 130.1,54.7 130.7,55.2 131.8,55.4 133.1,55.3 133.8,55.0"/><polyline points="116.2,56.0 115.9,55.7 114.2,55.6 112.6,55.8 113.2,56.1 114.3,56.3 115.9,56.3 116.2,56.0"/><polyline points="146.4,63.9 144.5,63.5 142.7,63.2 141.5,63.7 140.6,64.2 142.9,64.4 145.2,64.5 146.4,63.9"/><polyline points="124.5,63.2 123.7,63.0 121.6,62.9 120.0,63.1 120.0,63.4 121.5,63.7 123.5,63.5 124.5,63.2"/><polyline points="158.7,81.4 158.4,81.1 157.4,81.0 156.9,81.3 156.7,81.6 157.5,81.8 158.4,81.7 158.7,81.4"/><polyline points="156.3,85.5 156.0,85.2 155.0,85.2 154.3,85.4 154.1,85.7 154.9,85.9 156.0,85.8 156.3,85.5"/><polyline points="166.6,65.8 165.9,65.3 164.1,65.3 162.9,65.6 163.0,66.0 164.0,66.4 165.6,66.1 166.6,65.8"/><polyline points="143.1,55.6 142.1,55.3 140.4,55.2 138.8,55.4 139.4,55.8 140.4,56.0 142.3,56.0 143.1,55.6"/><polyline points="182.9,92.4 187.0,89.8 187.3,87.3 190.0,90.2 191.1,92.5 190.1,93.6 187.1,93.0 182.9,92.4"/><polyline points="102.8,91.3 100.3,90.2 96.8,88.3 98.4,88.7 101.2,90.0 102.8,91.3"/><polyline points="150.8,125.0 153.3,123.7 155.8,123.4 159.6,124.5 162.7,126.2 164.3,127.2 160.2,127.6 159.6,126.6 155.2,124.7 150.8,125.0"/><polyline points="163.9,129.5 166.1,127.6 169.6,127.8 171.6,129.2 169.6,129.8 167.7,130.5 163.9,129.5"/><polyline points="159.2,129.5 161.7,129.8 160.8,130.3 159.2,129.5"/><polyline points="173.0,129.4 175.0,129.6 173.0,130.0 173.0,129.4"/><polyline points="249.9,107.1 251.3,106.2 254.4,106.1 256.3,104.2 256.9,102.7 257.9,101.1 260.9,99.5 260.8,98.1 261.9,97.6 264.4,98.1 266.3,97.2 267.9,96.4 269.6,97.1 270.6,98.9 273.1,100.4 276.5,102.0 276.4,104.6 277.0,104.6 278.2,103.3 278.4,101.4 280.0,101.9 279.4,101.1 276.9,100.1 274.4,98.9 273.9,97.5 272.2,96.3 272.4,95.2 274.0,94.8 275.0,95.7 275.9,96.7 278.1,98.0 280.0,99.0 281.2,100.1 281.0,101.4 281.9,102.7 283.2,104.2 284.0,106.1 285.0,106.5 285.6,105.2 286.8,104.4 285.1,101.4 286.8,101.0 289.3,101.0 291.8,100.8 293.1,100.6 291.8,100.0 292.5,97.6 294.0,95.4 295.2,93.8 296.8,93.8 298.7,94.5 298.1,95.3 298.7,96.3 300.6,95.8 302.4,95.3 301.2,95.0 304.7,93.0 305.6,92.9 304.3,93.8 303.7,95.7 304.9,96.6 306.8,97.7 308.8,100.0 306.8,100.8 303.1,100.6 300.6,99.5 298.1,99.5 295.6,100.5 293.3,100.8 290.6,101.5 289.7,102.0 290.0,103.3 290.6,104.6 291.0,105.8 291.8,106.2 294.3,106.7 296.2,106.2 298.1,107.0 299.9,106.1 301.8,106.1 301.8,107.4 301.6,109.0 300.7,110.9 299.9,112.8 297.5,113.4 295.6,112.8 294.3,113.2 291.8,113.5 288.1,112.7 285.6,111.6 283.1,111.2 281.9,112.2 280.6,114.4 276.9,113.2 275.9,111.8 273.1,111.1 271.2,110.8 269.6,109.4 270.6,107.8 269.8,106.2 268.8,105.5 266.9,106.0 263.1,106.1 260.6,106.1 258.1,106.5 255.7,107.5 254.4,108.3 250.7,108.1 249.5,107.4 248.8,109.0 246.3,110.6 244.7,113.5 244.9,115.4 243.2,116.7 240.7,117.9 238.8,119.8 236.9,122.4 235.8,124.9 235.7,126.2 236.6,128.1 236.3,130.6 236.3,132.6 235.2,134.2 235.9,135.7 236.1,137.3 238.2,138.9 238.8,139.5 240.3,140.8 241.3,143.0 243.2,144.3 245.0,146.2 247.5,147.3 250.7,146.4 254.4,146.8 256.9,145.8 258.8,145.0 261.0,144.8 262.5,145.0 264.1,147.4 265.6,147.3 267.5,147.2 268.8,147.9 269.1,149.7 268.8,151.6 268.4,153.5 269.1,156.1 271.2,158.0 272.1,160.3 273.1,162.4 273.5,164.3 274.0,166.9 272.5,169.4 271.9,172.0 271.6,174.9 272.5,176.4 274.0,179.0 275.0,181.9 275.5,185.3 276.0,187.2 277.5,189.3 278.6,191.7 279.6,193.6 279.9,196.1 281.4,197.2 283.1,196.6 285.6,196.0 289.0,196.1 290.6,195.5 292.5,194.2 294.3,192.6 295.6,190.4 297.3,189.1 298.0,186.0 298.7,185.1 301.2,183.4 301.1,180.9 300.6,178.3 302.4,176.8 305.6,174.5 307.4,172.0 307.4,168.2 306.8,166.3 305.9,163.1 305.6,161.2 306.3,158.6 307.4,156.1 308.7,154.8 310.6,152.3 313.1,150.6 315.5,148.4 317.4,145.9 319.3,142.7 320.8,139.5 320.5,137.9 318.0,138.5 314.3,139.3 311.8,139.5 310.8,138.3 310.9,137.0 309.3,133.8 306.8,132.6 304.9,130.0 303.4,126.8 303.1,124.9 301.3,123.0 301.2,121.7 299.3,119.2 298.7,117.5 297.6,114.9 297.8,115.4 299.6,117.7 300.4,115.4 300.6,117.3 302.4,119.8 304.3,122.4 305.6,124.9 307.8,128.7 309.9,131.9 310.8,135.7 311.2,136.7 313.1,136.6 317.4,135.1 321.8,133.1 325.5,130.6 328.0,129.0 329.0,127.7 330.3,126.2 331.5,124.3 330.1,122.9 328.0,122.4 327.2,120.5 327.3,119.5 326.2,120.5 324.3,122.1 321.8,122.4 321.2,121.6 321.3,120.0 319.9,120.5 319.5,119.2 318.7,118.3 317.4,116.7 316.8,114.7 318.0,114.5 319.3,114.5 320.5,116.3 322.4,117.9 324.3,118.9 326.8,118.3 328.0,120.1 330.5,120.6 333.8,120.9 336.8,120.7 339.9,120.6 341.1,122.4 342.4,123.3 344.2,123.9 343.0,124.5 344.9,126.2 347.4,125.9 347.7,127.5 348.0,130.0 348.6,132.6 349.5,134.5 350.2,136.6 351.1,138.9 352.1,140.8 353.6,142.6 354.5,141.6 355.7,139.8 356.5,138.3 357.1,135.7 357.0,133.2 358.3,132.2 359.6,131.3 362.3,129.0 364.8,127.5 365.5,125.6 367.3,125.3 369.2,124.9 371.1,124.2 371.7,126.2 372.3,127.5 373.9,128.7 374.6,131.9 375.8,132.8 378.6,131.9 378.8,133.8 379.8,136.4 379.9,139.5 379.6,142.7 382.1,145.3 382.2,146.5 382.9,149.1 384.8,150.4 386.0,151.2 386.9,151.1 386.0,149.5 385.9,147.2 384.8,145.3 382.9,144.1 382.1,142.3 380.7,140.8 380.7,139.2 381.4,137.0 381.7,135.7 382.7,136.1 382.9,136.9 384.5,137.4 385.4,138.9 387.3,139.5 387.9,141.5 390.0,139.7 392.8,138.5 393.3,136.4 392.9,133.2 390.0,130.8 388.8,128.7 390.0,126.4 391.7,125.4 393.7,125.6 394.7,127.1 394.8,125.9 396.4,125.4 398.5,124.7 399.8,124.3 402.3,123.7 404.1,121.7 406.0,120.1 406.6,118.6 407.9,116.7 409.1,114.7 409.0,113.5 407.6,111.4 406.1,109.0 407.3,107.1 409.8,105.6 408.5,105.1 406.6,105.5 405.4,105.5 404.8,104.2 403.6,103.6 404.8,103.0 406.0,102.2 407.9,101.0 409.4,101.4 408.1,103.3 409.1,103.0 410.8,102.4 412.3,102.3 413.2,103.9 414.4,105.2 414.7,107.1 414.6,108.8 416.0,108.9 418.1,108.1 418.5,106.5 418.2,105.2 417.2,103.9 416.0,102.4 418.5,101.0 419.1,99.1 421.0,98.5 422.9,98.5 426.0,97.2 429.1,93.8 432.1,91.2 432.2,88.7 433.3,86.4 431.0,84.2 427.8,84.4 425.6,83.3 427.8,83.0 430.3,79.8 434.1,77.9 437.8,77.4 441.6,77.5 445.3,77.9 449.1,77.2 451.6,75.3 456.5,74.1 460.9,73.4 459.0,75.3 456.5,76.6 452.8,79.8 451.6,83.0 452.2,88.0 454.7,85.8 456.5,84.2 459.0,81.7 460.5,79.4 459.7,77.9 461.5,76.6 464.0,76.2 469.0,76.6 472.1,75.3 476.5,73.8 480.3,73.4 477.8,73.0 476.5,70.9 479.6,70.6 481.5,70.2"/><polyline points="32.3,70.2 38.5,70.9 41.7,71.0 44.2,69.6 42.3,69.0 45.0,68.8 42.9,67.7 38.5,67.1 34.8,65.8 32.3,65.2"/><polyline points="481.5,65.2 475.3,64.1 469.0,63.9 462.8,64.1 456.5,63.2 450.3,62.6 444.1,61.8 437.8,61.0 431.6,60.8 425.4,62.0 419.1,62.6 416.6,60.7 414.1,59.4 406.6,59.8 397.9,59.0 392.9,58.8 396.7,56.6 391.7,55.4 386.7,54.3 381.7,55.6 376.7,56.3 371.7,56.5 366.7,57.3 364.2,58.2 359.2,59.3 356.7,61.0 354.2,61.0 350.5,60.3 348.0,62.0 349.2,65.2 347.4,66.4 343.0,65.8 340.5,63.9 342.4,62.0 343.6,60.3 340.5,62.0 339.3,64.1 335.5,64.5 332.4,65.2 329.3,65.7 325.5,66.2 323.7,65.5 319.3,66.7 315.5,66.9 312.4,68.3 309.3,68.3 307.4,70.7 303.1,71.5 299.9,70.9 298.1,68.3 300.6,68.0 303.7,68.6 308.1,68.5 306.8,66.2 301.8,64.9 298.1,64.6 294.3,64.1 291.8,62.6 288.1,62.6 284.4,63.5 280.6,63.9 277.5,65.2 275.6,66.0 274.4,67.1 272.5,69.0 270.6,70.5 268.1,72.1 265.0,73.3 263.1,74.7 263.1,76.6 263.8,77.9 265.0,78.9 266.9,79.0 270.0,77.5 270.6,78.1 271.6,79.1 272.5,80.9 272.9,82.3 274.6,82.4 276.9,81.4 277.5,80.4 280.0,77.2 278.1,76.0 278.5,74.4 280.0,73.0 283.1,71.5 284.9,69.2 288.1,69.6 288.5,70.4 286.2,72.1 283.7,73.0 283.6,75.3 285.0,76.3 288.1,76.1 290.6,76.0 293.7,76.6 291.8,77.2 288.1,77.2 286.2,77.6 286.2,78.5 287.2,79.5 283.7,79.8 283.1,81.7 283.2,82.7 281.2,83.6 280.0,83.2 276.9,83.8 274.6,84.4 271.9,84.0 270.5,84.2 269.4,83.2 269.4,82.1 268.8,80.4 270.1,79.5 269.8,81.0 267.6,80.3 267.0,81.7 267.6,83.0 267.6,84.4 265.6,84.9 263.1,85.1 262.5,86.5 261.3,87.4 260.0,87.9 258.9,89.1 256.9,90.0 255.3,89.7 254.9,91.1 253.2,90.8 251.3,91.2 251.5,92.1 253.8,92.7 255.0,94.4 255.4,96.3 254.8,97.7 252.5,97.6 249.4,97.5 246.9,97.3 245.4,98.1 245.9,99.5 245.9,101.4 245.2,103.3 245.8,104.2 245.9,105.8 247.7,105.6 249.0,106.1 249.9,107.1"/><polyline points="250.7,89.3 252.5,88.9 255.7,88.4 258.6,87.8 259.0,85.9 257.3,84.9 256.3,83.6 255.0,82.3 254.4,81.7 253.2,81.7 254.7,79.7 252.5,79.5 253.2,78.4 250.7,78.4 250.0,79.8 249.4,81.0 250.0,82.3 250.9,83.2 252.9,83.6 253.2,85.0 251.3,85.1 251.7,86.4 250.4,87.0 253.2,87.5 251.3,87.8 249.8,89.2 250.7,89.3"/><polyline points="249.4,86.5 249.2,84.9 249.9,83.6 248.8,82.7 246.3,82.7 246.3,83.8 244.4,84.0 244.7,85.1 244.0,86.8 245.0,87.4 246.9,87.0 249.0,86.5 249.4,86.5"/><polyline points="228.8,71.5 230.1,69.6 227.6,69.0 229.4,68.5 234.4,68.8 238.2,68.3 240.1,70.0 238.8,71.0 234.4,72.3 228.8,71.5"/><polyline points="270.6,53.1 276.9,55.6 280.6,54.3 284.4,53.1 290.6,51.8 284.4,50.5 278.1,51.2 270.6,51.8 270.6,53.1"/><polyline points="321.8,62.6 325.5,60.1 328.0,57.5 333.0,55.9 341.8,55.0 339.3,56.3 331.8,58.2 328.0,60.7 326.8,62.6 323.0,63.2 321.8,62.6"/><polyline points="375.4,52.4 381.7,51.8 386.7,51.8 381.7,49.9 375.4,50.5 375.4,52.4"/><polyline points="427.8,57.5 434.1,58.8 444.1,57.5 441.6,56.9 431.6,56.3 427.8,57.5"/><polyline points="319.3,51.2 325.5,50.5 334.3,50.5 329.3,49.3 319.3,50.5 319.3,51.2"/><polyline points="267.5,103.3 269.0,103.0 269.1,100.8 268.4,100.4 267.1,101.0 267.5,103.3"/><polyline points="267.6,100.3 268.8,100.3 268.8,98.2 267.6,98.9 267.6,100.3"/><polyline points="272.4,104.4 276.4,104.2 275.7,106.2 272.4,105.1 272.4,104.4"/><polyline points="286.2,108.0 289.7,108.1 287.5,108.4 286.2,108.0"/><polyline points="297.2,108.4 299.9,107.6 299.2,108.8 297.2,108.4"/><polyline points="315.5,95.7 318.0,93.8 321.2,93.1 323.7,93.8 323.0,95.3 320.9,96.3 320.5,98.2 323.0,99.5 322.8,100.8 324.3,101.1 323.0,102.7 324.2,105.5 320.5,106.4 318.0,105.2 318.3,103.3 318.7,101.4 317.4,99.5 316.2,98.2 315.5,95.7"/><polyline points="329.9,94.4 332.4,93.8 333.6,95.7 331.8,97.3 329.9,96.3 329.9,94.4"/><polyline points="349.2,93.8 351.7,94.0 355.5,93.5 354.2,94.7 350.5,94.8 349.2,93.8"/><polyline points="386.7,87.2 389.2,86.1 391.7,84.9 393.5,82.3 392.3,82.3 389.8,85.5 386.7,87.2"/><polyline points="296.6,152.5 299.3,152.5 299.3,154.8 298.1,156.1 296.5,154.8 296.6,152.5"/><polyline points="293.3,157.1 294.1,159.3 295.0,161.8 295.6,163.7 295.0,163.5 293.7,161.2 293.3,157.1"/><polyline points="299.9,165.0 300.3,166.9 300.6,168.8 300.9,171.1 300.3,170.7 299.7,168.2 299.9,165.0"/><polyline points="295.0,76.6 297.8,74.9 296.2,74.6 295.0,76.6"/><polyline points="142.1,93.4 145.8,93.8 150.8,93.5 151.5,92.5 149.6,90.8 145.8,91.5 142.1,93.4"/><polyline points="147.3,99.5 148.0,96.9 149.3,94.7 150.2,96.3 149.2,98.9 147.3,99.5"/><polyline points="152.1,94.7 155.0,95.0 157.1,95.7 155.0,97.8 154.0,98.2 152.1,94.7"/><polyline points="153.0,99.9 158.3,98.5 156.5,99.1 153.0,99.9"/><polyline points="157.5,97.7 161.8,96.9 161.4,97.7 157.5,97.7"/><polyline points="100.9,69.6 105.9,67.7 109.7,68.3 107.8,70.2 103.4,70.5 100.9,69.6"/><polyline points="110.9,75.3 115.9,73.0 119.6,73.4 115.9,75.1 110.9,75.3"/><polyline points="133.4,88.7 135.9,88.7 135.9,84.5 134.0,85.5 133.4,88.7"/><polyline points="169.6,172.4 170.4,173.0 171.2,173.6 170.2,172.6 169.6,172.4"/><polyline points="273.7,135.4 275.0,134.8 275.6,136.0 274.6,136.5 273.7,135.4"/><polyline points="418.7,110.3 420.4,109.7 421.6,110.7 421.0,112.8 419.7,113.4 419.1,111.6 418.7,110.3"/><polyline points="422.2,109.7 424.7,109.4 425.0,110.3 422.9,111.2 422.2,109.7"/><polyline points="420.4,109.3 422.9,107.8 426.0,107.6 427.2,105.8 428.2,105.3 429.7,105.1 431.0,103.9 431.6,102.0 431.6,100.5 433.2,100.3 433.5,101.4 434.1,102.9 432.8,104.6 432.8,106.2 432.3,107.8 431.3,108.4 430.1,108.9 427.8,108.9 426.0,110.3 425.4,108.9 422.9,109.3 420.4,109.3"/><polyline points="431.6,100.1 431.6,98.5 433.2,97.8 433.7,95.3 435.3,96.6 437.2,97.1 438.5,97.8 436.0,99.5 432.8,99.7 431.6,100.1"/><polyline points="434.1,94.4 435.3,90.6 436.6,90.3 435.3,88.0 435.6,85.2 434.7,83.8 434.1,86.8 434.2,89.3 433.8,91.9 434.1,94.4"/><polyline points="407.0,124.3 407.9,125.0 409.0,121.7 408.6,120.7 407.5,121.7 407.0,124.3"/><polyline points="392.4,128.5 394.8,127.3 395.4,128.0 393.5,129.8 392.4,128.5"/><polyline points="407.4,129.4 409.5,129.4 409.1,131.9 408.6,134.7 411.6,135.7 411.0,136.6 409.1,135.4 407.4,135.1 406.4,132.6 407.4,129.4"/><polyline points="409.1,144.0 411.6,143.4 413.5,140.8 414.7,143.4 413.5,145.3 411.6,144.9 409.1,144.0"/><polyline points="409.1,137.9 411.0,139.5 411.6,138.3 412.9,138.9 413.5,137.0 411.6,137.0 409.1,137.9"/><polyline points="404.1,141.5 406.0,139.5 405.8,138.5 404.1,141.5"/><polyline points="392.9,151.0 394.8,150.7 397.9,148.8 401.0,146.3 403.1,144.0 405.8,146.3 404.1,147.4 404.1,151.6 402.9,152.9 402.3,154.8 401.6,157.7 399.8,157.4 397.9,157.0 396.0,156.7 394.4,156.5 393.7,154.2 392.9,152.5 392.9,151.0"/><polyline points="375.8,145.8 378.6,146.3 381.7,149.7 386.0,153.5 387.3,155.4 389.2,157.0 388.9,160.3 387.3,160.3 384.5,158.0 382.3,154.2 380.4,151.0 378.6,149.7 376.7,147.8 375.8,145.8"/><polyline points="388.2,161.5 389.2,160.4 392.0,160.9 394.8,161.7 397.3,161.7 399.8,162.7 399.6,164.0 394.8,163.3 391.7,162.8 389.8,162.3 388.2,161.5"/><polyline points="406.0,159.9 405.9,157.4 405.1,156.5 406.4,152.9 407.3,151.9 407.9,151.2 412.3,151.0 412.9,151.0 410.4,152.3 407.6,152.3 408.5,153.9 410.8,154.0 408.5,155.2 409.8,158.6 408.3,159.0 407.1,156.6 407.0,159.9 406.0,159.9"/><polyline points="420.4,154.6 422.2,153.4 424.1,153.9 425.4,157.1 428.5,154.8 432.8,156.2 437.2,157.7 438.8,159.8 441.0,160.8 441.4,163.1 443.4,165.0 444.7,166.3 441.6,165.7 439.7,164.1 436.6,162.7 435.7,164.3 432.8,164.5 430.3,163.2 429.3,163.6 428.7,159.6 426.0,158.5 423.5,157.7 421.6,156.5 420.4,154.6"/><polyline points="416.6,156.5 420.1,156.7 419.7,157.7 416.6,157.5 416.6,156.5"/><polyline points="416.0,151.0 416.9,150.1 417.4,151.4 416.6,152.9 416.0,151.0"/><polyline points="401.0,163.5 405.4,163.8 409.1,163.5 413.5,163.6 415.4,163.7 412.9,165.0 411.0,166.0 406.6,164.9 404.1,164.1 401.0,163.5"/><polyline points="444.1,158.0 446.6,158.6 446.6,160.5 444.1,160.5 442.2,159.9 444.1,158.0"/><polyline points="450.3,160.5 452.8,162.4 456.5,164.3 459.0,166.3 456.5,165.6 452.8,163.7 450.3,160.5"/><polyline points="464.7,172.0 465.9,173.9 466.8,175.4"/><polyline points="461.5,178.7 464.0,180.2 465.3,181.3 462.8,179.6 461.5,178.7"/><polyline points="478.1,175.2 479.6,174.9 479.6,176.0 478.1,175.2"/><polyline points="398.8,180.9 399.4,186.0 400.0,189.1 400.5,191.7 401.3,194.2 400.4,195.6 400.5,196.5 402.9,197.4 404.8,197.2 406.6,196.0 409.1,196.0 411.6,194.9 414.1,194.0 417.9,193.1 420.6,193.0 423.5,193.8 425.4,195.5 426.1,197.2 427.2,195.2 428.8,194.4 428.5,196.1 429.1,198.2 429.7,197.4 431.0,198.6 431.6,200.6 433.5,201.7 436.0,202.2 437.7,201.1 439.5,202.5 441.0,201.1 443.9,200.6 444.3,198.3 445.6,196.0 447.2,193.6 448.4,189.1 448.1,185.3 445.3,182.8 443.4,181.3 442.2,179.0 439.5,176.8 438.3,173.2 438.2,171.7 436.6,171.1 436.0,168.8 434.7,166.5 433.8,168.8 433.6,172.0 433.3,174.5 432.6,175.2 431.0,174.9 428.8,173.6 426.5,172.0 426.0,170.7 427.3,168.4 426.0,168.2 422.9,167.5 421.0,168.4 419.5,168.9 418.5,171.7 416.9,171.8 415.4,170.7 414.1,171.1 413.2,172.6 411.0,173.9 409.4,175.2 409.1,176.8 407.9,177.7 405.4,178.5 402.9,179.1 399.9,180.6 398.8,180.9"/><polyline points="437.5,204.7 439.7,205.2 441.9,204.9 441.9,206.6 440.3,208.2 439.1,208.2 438.1,206.6 437.5,204.7"/><polyline points="472.4,196.8 474.6,198.7 476.3,200.0 479.0,200.7 479.0,202.9 477.8,202.9 477.5,204.0 475.5,205.7 474.8,205.3 475.3,203.5 473.8,202.8 475.0,201.2 474.6,199.7 472.8,197.4 472.4,196.8"/><polyline points="472.4,204.4 474.4,205.7 473.4,207.6 472.6,208.5 470.5,209.5 470.0,211.1 468.2,212.2 464.7,211.4 464.7,210.5 466.9,208.9 469.6,207.5 470.9,205.9 471.6,204.9 472.4,204.4"/><polyline points="318.4,168.2 319.8,172.6 318.7,175.2 317.4,178.3 315.8,184.4 313.3,185.3 311.8,184.1 310.9,180.9 312.3,178.3 311.8,175.2 314.7,173.0 316.7,170.8 318.4,168.2"/><polyline points="356.5,142.7 357.0,140.4 358.2,142.1 359.0,143.6 358.2,145.0 356.8,145.1 356.5,142.7"/><polyline points="325.8,179.5 326.5,179.7 326.2,180.1 325.8,179.5"/><polyline points="328.4,178.3 329.0,178.6 328.6,179.0 328.4,178.3"/><polyline points="343.0,215.0 344.9,215.5 343.6,216.1 343.0,215.0"/><polyline points="180.4,218.1 184.5,218.1 183.9,219.4 180.8,219.0 180.4,218.1"/><polyline points="209.5,221.6 212.0,221.8 212.2,222.6 209.5,221.6"/><polyline points="169.6,220.6 171.4,219.8 174.5,222.6 172.0,223.5 168.3,222.2 169.6,220.6"/><polyline points="57.3,124.7 58.1,124.7 57.9,125.0 57.3,124.7"/><polyline points="59.4,125.4 60.1,125.8 59.6,125.8 59.4,125.4"/><polyline points="61.4,126.3 62.2,126.4 61.6,126.7 61.4,126.3"/><polyline points="62.2,127.2 63.5,127.7 63.5,128.4 62.5,128.9 62.2,127.8 62.2,127.2"/><polyline points="64.7,79.8 66.6,79.3 66.9,80.0 64.7,80.8 64.7,79.8"/><polyline points="47.3,84.9 49.8,84.5 49.1,84.2"/><polyline points="37.3,87.0 39.8,86.6"/><polyline points="474.0,85.8 479.0,87.0 480.9,87.4"/><polyline points="32.3,62.2 35.4,62.0 34.2,62.7 32.3,62.6"/><polyline points="480.3,62.0 481.5,62.2"/><polyline points="145.2,153.5 142.7,153.3 143.4,154.2 145.2,153.5"/><polyline points="32.3,260.0 44.8,260.4 57.3,261.0 66.0,261.2 69.7,260.4 66.0,258.5 72.2,256.5 63.5,255.3 62.2,252.7 66.0,251.2 76.0,250.2 84.7,248.9 94.7,248.0 105.9,247.0 119.6,247.4 129.6,247.6 138.4,245.7 150.8,246.1 159.6,245.1 167.1,243.2 172.0,239.4 174.5,236.8 179.5,234.7 185.2,233.7 183.3,234.9 180.8,237.5 178.3,240.0 180.2,243.2 180.8,246.4 180.8,250.2 194.5,251.8 210.7,252.7 219.5,250.8 231.9,247.6 240.7,244.5 250.7,242.9 256.9,242.6 269.4,242.2 281.9,242.3 294.3,241.7 300.6,241.3 306.8,240.4 313.1,238.7 319.3,237.5 325.5,237.5 331.8,238.4 338.0,238.9 344.2,240.0 346.7,241.7 350.5,241.0 354.2,240.0 356.7,238.7 363.0,237.8 369.2,237.6 381.7,236.8 394.2,237.1 406.6,237.8 419.1,237.1 431.6,237.7 444.1,240.0 450.3,240.6 456.5,241.7 462.8,242.9 469.0,243.8 466.5,246.4 460.3,248.9 457.8,251.5 457.8,253.7 461.5,256.5 469.0,258.5 476.5,259.6 481.5,260.0"/><polyline points="54.8,253.4 59.7,253.7 57.3,254.6 54.8,253.4"/></g>
<path d="M144.20,91.40L142.75,91.99L141.30,91.40L139.85,91.99L138.40,91.40L136.95,91.99L136.04,91.47L134.96,91.47L134.02,92.02L133.47,92.96L133.47,94.04L133.78,94.68L133.14,94.37L132.06,94.37L130.78,95.35L130.50,96.40L131.09,97.85L130.50,99.30L131.09,100.75L130.57,101.66L130.57,102.74L131.12,103.68L132.06,104.23L133.14,104.23L133.79,103.91L133.40,105.10L133.99,106.55L133.40,108.00L133.99,109.45L133.47,110.36L133.47,111.44L134.02,112.38L134.96,112.93L136.04,112.93L136.95,112.41L137.86,112.93L138.94,112.93L139.89,112.38L140.43,111.44L140.43,110.36L139.91,109.45L140.50,108.00L140.12,106.82L141.30,107.20L142.75,106.61L144.20,107.20L145.38,106.82L145.00,108.00L145.59,109.45L145.00,110.90L145.59,112.35L145.00,113.80L145.61,115.29L146.56,115.83L148.15,115.62L149.13,114.34L149.13,113.26L148.81,112.61L150.00,113.00L151.19,112.61L150.80,113.80L151.08,114.85L152.36,115.83L153.44,115.83L154.08,115.52L153.77,116.16L153.77,117.24L154.31,118.18L155.26,118.73L156.85,118.52L157.83,117.24L157.83,116.16L157.31,115.25L157.90,113.80L157.51,112.61L158.16,112.93L159.24,112.93L160.18,112.38L160.73,111.44L160.73,110.36L160.21,109.45L160.80,108.00L160.21,106.55L160.80,105.10L160.41,103.91L161.60,104.30L163.09,103.68L163.70,102.20L163.32,101.02L163.96,101.33L165.04,101.33L166.32,100.35L166.60,99.30L166.21,98.11L167.40,98.50L168.85,97.91L170.30,98.50L171.75,97.91L173.20,98.50L174.25,98.22L175.23,96.94L175.02,95.35L174.25,94.58L173.20,94.30L171.75,94.89L170.30,94.30L168.85,94.89L167.40,94.30L165.95,94.89L164.50,94.30L163.05,94.89L161.60,94.30L160.15,94.89L158.70,94.30L157.25,94.89L155.80,94.30L154.35,94.89L152.90,94.30L151.45,94.89L150.00,94.30L148.82,94.68L149.13,94.04L149.13,92.96L148.15,91.68L147.10,91.40L145.65,91.99L144.20,91.40ZM140.43,102.74L140.22,101.15L139.45,100.38L138.40,100.10L137.22,100.48L137.60,99.30L137.21,98.11L138.40,98.50L139.45,98.22L140.43,96.94L140.43,95.86L140.12,95.22L141.30,95.60L142.48,95.22L142.10,96.40L142.38,97.45L143.66,98.43L144.74,98.43L145.39,98.11L145.00,99.30L145.38,100.48L144.20,100.10L142.72,100.71L142.10,102.20L142.49,103.39L141.30,103.00L140.11,103.39L140.43,102.74Z" fill="#62BDEB" stroke="#0a0a0a" stroke-width="1.2" fill-rule="evenodd"/>
<g fill="#62C0EE" stroke="#2a3f4f" stroke-width="0.5"><circle cx="135.5" cy="93.5" r="1.95"/><circle cx="138.4" cy="93.5" r="1.95"/><circle cx="141.3" cy="93.5" r="1.95"/><circle cx="144.2" cy="93.5" r="1.95"/><circle cx="147.1" cy="93.5" r="1.95"/><circle cx="132.6" cy="96.4" r="1.95"/><circle cx="135.5" cy="96.4" r="1.95"/><circle cx="138.4" cy="96.4" r="1.95"/><circle cx="144.2" cy="96.4" r="1.95"/><circle cx="147.1" cy="96.4" r="1.95"/><circle cx="150.0" cy="96.4" r="1.95"/><circle cx="152.9" cy="96.4" r="1.95"/><circle cx="155.8" cy="96.4" r="1.95"/><circle cx="158.7" cy="96.4" r="1.95"/><circle cx="161.6" cy="96.4" r="1.95"/><circle cx="164.5" cy="96.4" r="1.95"/><circle cx="167.4" cy="96.4" r="1.95"/><circle cx="170.3" cy="96.4" r="1.95"/><circle cx="173.2" cy="96.4" r="1.95"/><circle cx="132.6" cy="99.3" r="1.95"/><circle cx="135.5" cy="99.3" r="1.95"/><circle cx="147.1" cy="99.3" r="1.95"/><circle cx="150.0" cy="99.3" r="1.95"/><circle cx="152.9" cy="99.3" r="1.95"/><circle cx="155.8" cy="99.3" r="1.95"/><circle cx="158.7" cy="99.3" r="1.95"/><circle cx="161.6" cy="99.3" r="1.95"/><circle cx="164.5" cy="99.3" r="1.95"/><circle cx="132.6" cy="102.2" r="1.95"/><circle cx="135.5" cy="102.2" r="1.95"/><circle cx="138.4" cy="102.2" r="1.95"/><circle cx="144.2" cy="102.2" r="1.95"/><circle cx="147.1" cy="102.2" r="1.95"/><circle cx="150.0" cy="102.2" r="1.95"/><circle cx="152.9" cy="102.2" r="1.95"/><circle cx="155.8" cy="102.2" r="1.95"/><circle cx="158.7" cy="102.2" r="1.95"/><circle cx="161.6" cy="102.2" r="1.95"/><circle cx="135.5" cy="105.1" r="1.95"/><circle cx="138.4" cy="105.1" r="1.95"/><circle cx="141.3" cy="105.1" r="1.95"/><circle cx="144.2" cy="105.1" r="1.95"/><circle cx="147.1" cy="105.1" r="1.95"/><circle cx="150.0" cy="105.1" r="1.95"/><circle cx="152.9" cy="105.1" r="1.95"/><circle cx="155.8" cy="105.1" r="1.95"/><circle cx="158.7" cy="105.1" r="1.95"/><circle cx="135.5" cy="108.0" r="1.95"/><circle cx="138.4" cy="108.0" r="1.95"/><circle cx="147.1" cy="108.0" r="1.95"/><circle cx="150.0" cy="108.0" r="1.95"/><circle cx="152.9" cy="108.0" r="1.95"/><circle cx="155.8" cy="108.0" r="1.95"/><circle cx="158.7" cy="108.0" r="1.95"/><circle cx="135.5" cy="110.9" r="1.95"/><circle cx="138.4" cy="110.9" r="1.95"/><circle cx="147.1" cy="110.9" r="1.95"/><circle cx="150.0" cy="110.9" r="1.95"/><circle cx="152.9" cy="110.9" r="1.95"/><circle cx="155.8" cy="110.9" r="1.95"/><circle cx="158.7" cy="110.9" r="1.95"/><circle cx="147.1" cy="113.8" r="1.95"/><circle cx="152.9" cy="113.8" r="1.95"/><circle cx="155.8" cy="113.8" r="1.95"/><circle cx="155.8" cy="116.7" r="1.95"/></g>
<g fill="#5AB2E4" stroke="#111" stroke-width="0.9"><circle cx="50.8" cy="71.1" r="2.1"/><circle cx="66.7" cy="68.7" r="2.1"/><circle cx="66.7" cy="78.8" r="2.1"/><circle cx="47.8" cy="83.8" r="2.1"/><circle cx="113.7" cy="84.0" r="2.1"/><circle cx="122.8" cy="81.4" r="2.1"/><circle cx="119.6" cy="86.1" r="2.1"/><circle cx="102.2" cy="91.5" r="2.1"/><circle cx="104.8" cy="91.5" r="2.1"/><circle cx="113.7" cy="91.5" r="2.1"/><circle cx="122.8" cy="94.1" r="2.1"/><circle cx="119.6" cy="96.8" r="2.1"/><circle cx="101.5" cy="98.9" r="2.1"/><circle cx="110.2" cy="99.4" r="2.1"/><circle cx="112.7" cy="99.4" r="2.1"/><circle cx="117.0" cy="101.9" r="2.1"/><circle cx="122.8" cy="98.9" r="2.1"/><circle cx="122.8" cy="101.5" r="2.1"/><circle cx="122.8" cy="104.2" r="2.1"/><circle cx="106.9" cy="106.4" r="2.1"/><circle cx="109.7" cy="108.4" r="2.1"/><circle cx="114.2" cy="113.4" r="2.1"/><circle cx="131.7" cy="96.8" r="2.1"/><circle cx="131.7" cy="101.0" r="2.1"/><circle cx="131.7" cy="104.2" r="2.1"/><circle cx="163.3" cy="88.8" r="2.1"/><circle cx="185.2" cy="91.9" r="2.1"/><circle cx="144.6" cy="124.2" r="2.1"/><circle cx="287.7" cy="65.7" r="2.1"/><circle cx="275.7" cy="71.3" r="2.1"/><circle cx="253.7" cy="81.0" r="2.1"/><circle cx="244.0" cy="83.8" r="2.1"/><circle cx="253.7" cy="85.9" r="2.1"/><circle cx="253.7" cy="88.6" r="2.1"/><circle cx="265.9" cy="78.4" r="2.1"/><circle cx="272.2" cy="78.4" r="2.1"/><circle cx="272.2" cy="80.4" r="2.1"/><circle cx="272.2" cy="82.4" r="2.1"/><circle cx="272.2" cy="84.6" r="2.1"/><circle cx="265.9" cy="83.2" r="2.1"/><circle cx="265.9" cy="86.6" r="2.1"/><circle cx="259.8" cy="86.3" r="2.1"/><circle cx="262.5" cy="86.3" r="2.1"/><circle cx="269.3" cy="86.6" r="2.1"/><circle cx="269.3" cy="88.6" r="2.1"/><circle cx="265.9" cy="91.7" r="2.1"/><circle cx="272.7" cy="93.4" r="2.1"/><circle cx="275.7" cy="93.4" r="2.1"/><circle cx="285.0" cy="84.2" r="2.1"/><circle cx="250.7" cy="96.6" r="2.1"/><circle cx="278.9" cy="101.7" r="2.1"/><circle cx="360.3" cy="99.4" r="2.1"/><circle cx="381.4" cy="107.1" r="2.1"/><circle cx="369.0" cy="114.6" r="2.1"/><circle cx="391.0" cy="114.6" r="2.1"/><circle cx="391.0" cy="119.3" r="2.1"/><circle cx="381.4" cy="122.1" r="2.1"/><circle cx="409.8" cy="114.6" r="2.1"/><circle cx="415.7" cy="99.4" r="2.1"/><circle cx="415.7" cy="104.1" r="2.1"/><circle cx="278.2" cy="196.1" r="2.1"/><circle cx="353.5" cy="201.1" r="2.1"/><circle cx="437.5" cy="203.9" r="2.1"/><circle cx="272.4" cy="53.5" r="2.1"/></g>
<rect x="479.94" y="37.18" width="1.56" height="231.45" fill="#fff"/>
<rect x="30.9" y="36.9" width="450.40" height="231.10" fill="none" stroke="#858585" stroke-width="1"/>
<path d="M32.30,268.0v-4M32.30,36.9v4M88.45,268.0v-4M88.45,36.9v4M144.60,268.0v-4M144.60,36.9v4M200.75,268.0v-4M200.75,36.9v4M256.90,268.0v-4M256.90,36.9v4M313.05,268.0v-4M313.05,36.9v4M369.20,268.0v-4M369.20,36.9v4M425.35,268.0v-4M425.35,36.9v4M481.50,268.0v-4M481.50,36.9v4M30.9,229.20h4M481.3,229.20h-4M30.9,191.05h4M481.3,191.05h-4M30.9,152.90h4M481.3,152.90h-4M30.9,114.75h4M481.3,114.75h-4M30.9,76.60h4M481.3,76.60h-4M30.9,38.45h4M481.3,38.45h-4" stroke="#555" stroke-width="0.8" fill="none"/>
<text font-family="Liberation Sans" font-size="9.5" fill="#303030" x="17.98" y="285.5">180</text><circle cx="35.52" cy="276.40" r="1.05" fill="none" stroke="#3a3a3a" stroke-width="0.55"/><text font-family="Liberation Sans" font-size="9.5" fill="#303030" x="37.32" y="285.5">W</text>
<text font-family="Liberation Sans" font-size="9.5" fill="#303030" x="74.13" y="285.5">135</text><circle cx="91.67" cy="276.40" r="1.05" fill="none" stroke="#3a3a3a" stroke-width="0.55"/><text font-family="Liberation Sans" font-size="9.5" fill="#303030" x="93.47" y="285.5">W</text>
<text font-family="Liberation Sans" font-size="9.5" fill="#303030" x="132.92" y="285.5">90</text><circle cx="145.18" cy="276.40" r="1.05" fill="none" stroke="#3a3a3a" stroke-width="0.55"/><text font-family="Liberation Sans" font-size="9.5" fill="#303030" x="146.98" y="285.5">W</text>
<text font-family="Liberation Sans" font-size="9.5" fill="#303030" x="189.07" y="285.5">45</text><circle cx="201.33" cy="276.40" r="1.05" fill="none" stroke="#3a3a3a" stroke-width="0.55"/><text font-family="Liberation Sans" font-size="9.5" fill="#303030" x="203.13" y="285.5">W</text>
<text font-family="Liberation Sans" font-size="9.5" fill="#303030" x="254.26" y="282.7">0</text>
<text font-family="Liberation Sans" font-size="9.5" fill="#303030" x="303.12" y="285.5">45</text><circle cx="315.38" cy="276.40" r="1.05" fill="none" stroke="#3a3a3a" stroke-width="0.55"/><text font-family="Liberation Sans" font-size="9.5" fill="#303030" x="316.58" y="285.5">E</text>
<text font-family="Liberation Sans" font-size="9.5" fill="#303030" x="359.27" y="285.5">90</text><circle cx="371.53" cy="276.40" r="1.05" fill="none" stroke="#3a3a3a" stroke-width="0.55"/><text font-family="Liberation Sans" font-size="9.5" fill="#303030" x="372.73" y="285.5">E</text>
<text font-family="Liberation Sans" font-size="9.5" fill="#303030" x="412.78" y="285.5">135</text><circle cx="430.32" cy="276.40" r="1.05" fill="none" stroke="#3a3a3a" stroke-width="0.55"/><text font-family="Liberation Sans" font-size="9.5" fill="#303030" x="431.52" y="285.5">E</text>
<text font-family="Liberation Sans" font-size="9.5" fill="#303030" x="468.93" y="285.5">180</text><circle cx="486.47" cy="276.40" r="1.05" fill="none" stroke="#3a3a3a" stroke-width="0.55"/><text font-family="Liberation Sans" font-size="9.5" fill="#303030" x="487.67" y="285.5">E</text>
<text font-family="Liberation Sans" font-size="9.5" fill="#303030" x="16.7" y="43.45" text-anchor="end">90</text><circle cx="18.30" cy="34.95" r="1.05" fill="none" stroke="#3a3a3a" stroke-width="0.55"/><text font-family="Liberation Sans" font-size="9.5" fill="#303030" x="19.90" y="43.45">N</text>
<text font-family="Liberation Sans" font-size="9.5" fill="#303030" x="16.7" y="81.60" text-anchor="end">60</text><circle cx="18.30" cy="73.10" r="1.05" fill="none" stroke="#3a3a3a" stroke-width="0.55"/><text font-family="Liberation Sans" font-size="9.5" fill="#303030" x="19.90" y="81.60">N</text>
<text font-family="Liberation Sans" font-size="9.5" fill="#303030" x="16.7" y="119.75" text-anchor="end">30</text><circle cx="18.30" cy="111.25" r="1.05" fill="none" stroke="#3a3a3a" stroke-width="0.55"/><text font-family="Liberation Sans" font-size="9.5" fill="#303030" x="19.90" y="119.75">N</text>
<text font-family="Liberation Sans" font-size="9.5" fill="#303030" x="23.9" y="157.90" text-anchor="end">0</text><circle cx="25.45" cy="149.70" r="1.05" fill="none" stroke="#3a3a3a" stroke-width="0.55"/>
<text font-family="Liberation Sans" font-size="9.5" fill="#303030" x="16.7" y="196.05" text-anchor="end">30</text><circle cx="19.00" cy="187.55" r="1.05" fill="none" stroke="#3a3a3a" stroke-width="0.55"/><text font-family="Liberation Sans" font-size="9.5" fill="#303030" x="20.85" y="196.05">S</text>
<text font-family="Liberation Sans" font-size="9.5" fill="#303030" x="16.7" y="234.20" text-anchor="end">60</text><circle cx="19.00" cy="225.70" r="1.05" fill="none" stroke="#3a3a3a" stroke-width="0.55"/><text font-family="Liberation Sans" font-size="9.5" fill="#303030" x="20.85" y="234.20">S</text>
<text font-family="Liberation Sans" font-size="9.5" fill="#303030" x="16.7" y="272.35" text-anchor="end">90</text><circle cx="19.00" cy="263.85" r="1.05" fill="none" stroke="#3a3a3a" stroke-width="0.55"/><text font-family="Liberation Sans" font-size="9.5" fill="#303030" x="20.85" y="272.35">S</text>
<text font-family="Liberation Serif" font-weight="bold" font-size="11.55" fill="#000" x="135.4" y="18.4">Range of the Weekly Hg Wet Deposition ( ng m<tspan dx="0.4" dy="-5.5" font-size="8.4">-2</tspan><tspan dx="0.3" dy="5.5">)</tspan></text>
<text font-family="Liberation Serif" font-size="11.4" fill="#000" x="164.2" y="33.6">from the runs using different inventories</text>
<rect x="31.00" y="295.5" width="45.46" height="15.10" fill="#F0E3D0"/>
<rect x="76.41" y="295.5" width="44.96" height="15.10" fill="#F9C266"/>
<rect x="121.32" y="295.5" width="44.96" height="15.10" fill="#FEA500"/>
<rect x="166.23" y="295.5" width="44.96" height="15.10" fill="#FE7D40"/>
<rect x="211.14" y="295.5" width="44.96" height="15.10" fill="#F85A6E"/>
<rect x="256.05" y="295.5" width="44.96" height="15.10" fill="#D4508C"/>
<rect x="300.96" y="295.5" width="44.96" height="15.10" fill="#A24E98"/>
<rect x="345.87" y="295.5" width="44.96" height="15.10" fill="#6C5398"/>
<rect x="390.78" y="295.5" width="44.96" height="15.10" fill="#334E83"/>
<rect x="435.69" y="295.5" width="45.16" height="15.10" fill="#0D4A5E"/>
<rect x="31.0" y="295.5" width="449.80" height="15.10" fill="none" stroke="#858585" stroke-width="1"/>
<path d="M76.81,310.6v-4.5M121.72,310.6v-4.5M166.63,310.6v-4.5M211.54,310.6v-4.5M256.45,310.6v-4.5M301.36,310.6v-4.5M346.27,310.6v-4.5M391.18,310.6v-4.5M436.09,310.6v-4.5" stroke="#2a2a2a" stroke-width="0.8"/>
<text font-family="Liberation Serif" font-size="9.6" fill="#262626" x="31.50" y="323.3" text-anchor="middle">0</text>
<text font-family="Liberation Serif" font-size="9.6" fill="#262626" x="76.41" y="323.3" text-anchor="middle">4</text>
<text font-family="Liberation Serif" font-size="9.6" fill="#262626" x="121.32" y="323.3" text-anchor="middle">8</text>
<text font-family="Liberation Serif" font-size="9.6" fill="#262626" x="166.23" y="323.3" text-anchor="middle">12</text>
<text font-family="Liberation Serif" font-size="9.6" fill="#262626" x="211.14" y="323.3" text-anchor="middle">16</text>
<text font-family="Liberation Serif" font-size="9.6" fill="#262626" x="256.05" y="323.3" text-anchor="middle">20</text>
<text font-family="Liberation Serif" font-size="9.6" fill="#262626" x="300.96" y="323.3" text-anchor="middle">24</text>
<text font-family="Liberation Serif" font-size="9.6" fill="#262626" x="345.87" y="323.3" text-anchor="middle">28</text>
<text font-family="Liberation Serif" font-size="9.6" fill="#262626" x="390.78" y="323.3" text-anchor="middle">32</text>
<text font-family="Liberation Serif" font-size="9.6" fill="#262626" x="435.69" y="323.3" text-anchor="middle">36</text>
<text font-family="Liberation Serif" font-size="9.6" fill="#262626" x="480.60" y="323.3" text-anchor="middle">40</text>
</svg></body></html>
